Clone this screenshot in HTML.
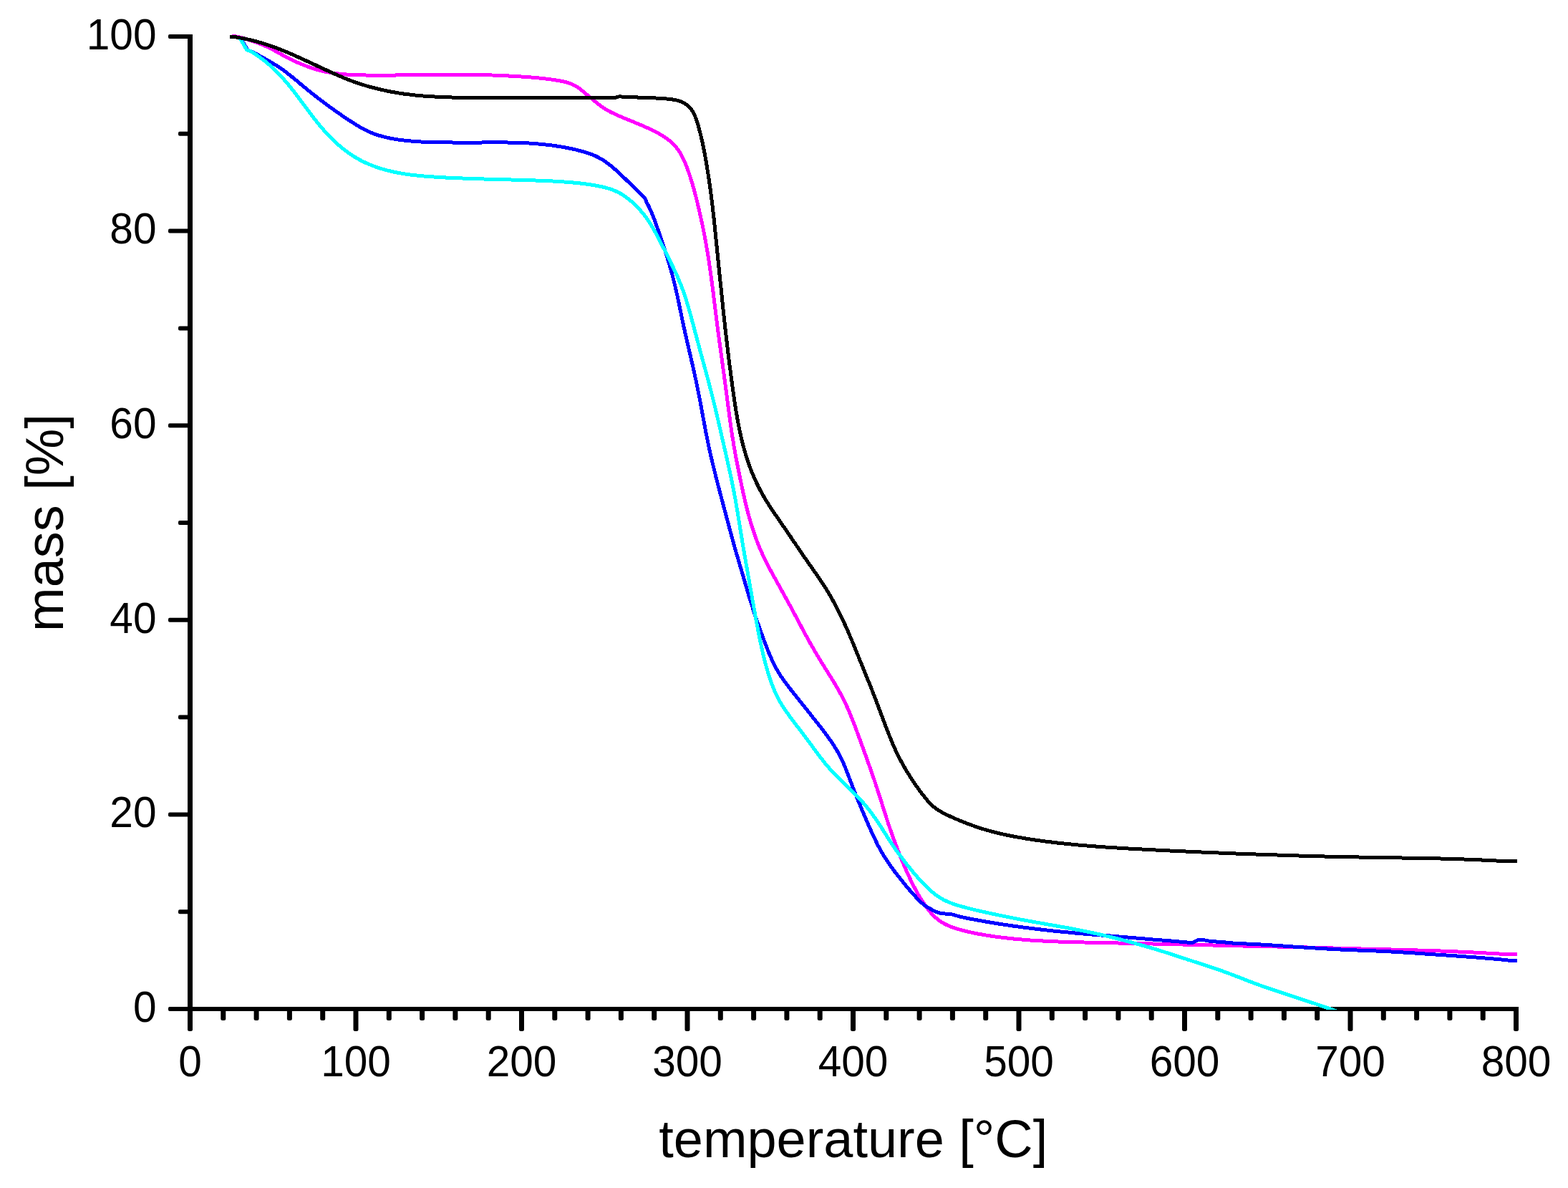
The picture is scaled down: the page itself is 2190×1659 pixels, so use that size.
<!DOCTYPE html>
<html lang="en"><head><meta charset="utf-8">
<title>mass [%] vs temperature [°C]</title>
<style>
html,body{margin:0;padding:0;background:#fff;}
body{width:2190px;height:1659px;overflow:hidden;}
svg{display:block;}
text{font-family:"Liberation Sans",Arial,Helvetica,sans-serif;fill:#000;}
.tick{font-size:58.6px;}
.title{font-size:73.9px;}
.curve{fill:none;stroke-width:5.0;stroke-linejoin:round;stroke-linecap:butt;}
</style></head><body>
<svg xmlns="http://www.w3.org/2000/svg" width="2190" height="1659" viewBox="0 0 2190 1659">
<rect x="0" y="0" width="2190" height="1659" fill="#fff"/>
<defs><clipPath id="plot"><rect x="262" y="0" width="1857.5" height="1410"/></clipPath></defs>
<g fill="#000" shape-rendering="crispEdges">
<rect x="262" y="48" width="7" height="1389"/>
<rect x="262" y="1406" width="1859" height="6"/>
</g>
<g fill="#000">
<rect x="235" y="1406" width="30" height="6" rx="2"/>
<rect x="249" y="1270.2" width="16" height="6" rx="2"/>
<rect x="235" y="1134.4" width="30" height="6" rx="2"/>
<rect x="249" y="998.6" width="16" height="6" rx="2"/>
<rect x="235" y="862.8" width="30" height="6" rx="2"/>
<rect x="249" y="727" width="16" height="6" rx="2"/>
<rect x="235" y="591.2" width="30" height="6" rx="2"/>
<rect x="249" y="455.4" width="16" height="6" rx="2"/>
<rect x="235" y="319.6" width="30" height="6" rx="2"/>
<rect x="249" y="183.8" width="16" height="6" rx="2"/>
<rect x="235" y="48" width="30" height="6" rx="2"/>
<rect x="262" y="1408" width="7" height="32" rx="2.5"/>
<rect x="308.3" y="1408" width="7" height="17" rx="2.5"/>
<rect x="354.6" y="1408" width="7" height="17" rx="2.5"/>
<rect x="400.9" y="1408" width="7" height="17" rx="2.5"/>
<rect x="447.2" y="1408" width="7" height="17" rx="2.5"/>
<rect x="493.5" y="1408" width="7" height="32" rx="2.5"/>
<rect x="539.8" y="1408" width="7" height="17" rx="2.5"/>
<rect x="586.1" y="1408" width="7" height="17" rx="2.5"/>
<rect x="632.4" y="1408" width="7" height="17" rx="2.5"/>
<rect x="678.7" y="1408" width="7" height="17" rx="2.5"/>
<rect x="725" y="1408" width="7" height="32" rx="2.5"/>
<rect x="771.3" y="1408" width="7" height="17" rx="2.5"/>
<rect x="817.6" y="1408" width="7" height="17" rx="2.5"/>
<rect x="863.9" y="1408" width="7" height="17" rx="2.5"/>
<rect x="910.2" y="1408" width="7" height="17" rx="2.5"/>
<rect x="956.5" y="1408" width="7" height="32" rx="2.5"/>
<rect x="1002.8" y="1408" width="7" height="17" rx="2.5"/>
<rect x="1049.1" y="1408" width="7" height="17" rx="2.5"/>
<rect x="1095.4" y="1408" width="7" height="17" rx="2.5"/>
<rect x="1141.7" y="1408" width="7" height="17" rx="2.5"/>
<rect x="1188" y="1408" width="7" height="32" rx="2.5"/>
<rect x="1234.3" y="1408" width="7" height="17" rx="2.5"/>
<rect x="1280.6" y="1408" width="7" height="17" rx="2.5"/>
<rect x="1326.9" y="1408" width="7" height="17" rx="2.5"/>
<rect x="1373.2" y="1408" width="7" height="17" rx="2.5"/>
<rect x="1419.5" y="1408" width="7" height="32" rx="2.5"/>
<rect x="1465.8" y="1408" width="7" height="17" rx="2.5"/>
<rect x="1512.1" y="1408" width="7" height="17" rx="2.5"/>
<rect x="1558.4" y="1408" width="7" height="17" rx="2.5"/>
<rect x="1604.7" y="1408" width="7" height="17" rx="2.5"/>
<rect x="1651" y="1408" width="7" height="32" rx="2.5"/>
<rect x="1697.3" y="1408" width="7" height="17" rx="2.5"/>
<rect x="1743.6" y="1408" width="7" height="17" rx="2.5"/>
<rect x="1789.9" y="1408" width="7" height="17" rx="2.5"/>
<rect x="1836.2" y="1408" width="7" height="17" rx="2.5"/>
<rect x="1882.5" y="1408" width="7" height="32" rx="2.5"/>
<rect x="1928.8" y="1408" width="7" height="17" rx="2.5"/>
<rect x="1975.1" y="1408" width="7" height="17" rx="2.5"/>
<rect x="2021.4" y="1408" width="7" height="17" rx="2.5"/>
<rect x="2067.7" y="1408" width="7" height="17" rx="2.5"/>
<rect x="2114" y="1408" width="7" height="32" rx="2.5"/>
</g>
<g class="curve" clip-path="url(#plot)" shape-rendering="crispEdges">
<path stroke="#ff00ff" d="M322.9 51.1C323.9 51 326.9 50.7 328.9 50.9C330.9 51 332.8 51.5 334.8 52C336.7 52.4 338.7 53 340.6 53.5C342.5 54.1 344.4 54.6 346.3 55.2C348.2 55.8 350.1 56.5 352 57.1C353.9 57.7 355.8 58.4 357.7 59.1C359.6 59.7 361.4 60.4 363.3 61.2C365.2 61.9 367 62.7 368.8 63.5C370.7 64.3 372.5 65.1 374.3 66C376.1 66.8 377.9 67.7 379.7 68.7C381.4 69.6 383.2 70.5 384.9 71.5C386.7 72.5 388.4 73.4 390.2 74.4C391.9 75.4 393.7 76.4 395.4 77.3C397.2 78.3 398.9 79.2 400.7 80.1C402.5 81 404.3 82 406.1 82.8C407.9 83.7 409.7 84.6 411.5 85.4C413.3 86.3 415.1 87.1 416.9 87.9C418.8 88.7 420.6 89.5 422.5 90.2C424.3 91 426.2 91.7 428 92.4C429.9 93.1 431.8 93.8 433.7 94.5C435.6 95.1 437.5 95.7 439.4 96.3C441.3 96.9 443.2 97.5 445.1 98C447.1 98.5 449 99 451 99.4C452.9 99.9 454.9 100.3 456.8 100.6C458.8 101 460.8 101.4 462.7 101.7C464.7 102 466.7 102.3 468.7 102.5C470.7 102.8 472.6 103 474.6 103.2C476.6 103.4 478.6 103.6 480.6 103.7C482.6 103.9 484.6 104 486.6 104.2C488.6 104.3 490.6 104.4 492.6 104.5C494.6 104.6 496.6 104.6 498.6 104.7C500.6 104.8 502.6 104.8 504.6 104.9C506.6 104.9 508.6 105 510.6 105C512.5 105 514.5 105 516.5 105.1C518.5 105.1 520.5 105.1 522.5 105.1C524.5 105.1 526.5 105.1 528.5 105.1C530.5 105.1 532.5 105.1 534.5 105.1C536.5 105.1 538.5 105.1 540.5 105.1C542.5 105 544.5 105 546.5 105C548.5 105 550.5 105 552.5 105C554.5 104.9 556.5 104.9 558.5 104.9C560.5 104.9 562.5 104.8 564.5 104.8C566.5 104.8 568.5 104.8 570.5 104.8C572.5 104.7 574.5 104.7 576.5 104.7C578.5 104.7 580.5 104.7 582.5 104.6C584.5 104.6 586.5 104.6 588.5 104.6C590.5 104.6 592.5 104.5 594.5 104.5C596.5 104.5 598.5 104.5 600.5 104.5C602.5 104.5 604.5 104.4 606.5 104.4C608.5 104.4 610.5 104.4 612.5 104.4C614.5 104.4 616.5 104.4 618.5 104.4C620.5 104.3 622.5 104.3 624.5 104.3C626.5 104.3 628.5 104.3 630.5 104.3C632.5 104.3 634.5 104.3 636.5 104.3C638.5 104.3 640.5 104.3 642.5 104.3C644.5 104.3 646.5 104.3 648.5 104.3C650.5 104.4 652.5 104.4 654.5 104.4C656.5 104.4 658.4 104.4 660.4 104.4C662.4 104.5 664.4 104.5 666.4 104.5C668.4 104.6 670.4 104.6 672.4 104.6C674.4 104.7 676.4 104.7 678.4 104.8C680.4 104.8 682.4 104.9 684.4 104.9C686.4 105 688.4 105 690.4 105.1C692.4 105.2 694.4 105.3 696.4 105.3C698.4 105.4 700.4 105.5 702.4 105.6C704.4 105.7 706.4 105.8 708.4 105.9C710.4 106 712.4 106.1 714.4 106.2C716.4 106.3 718.4 106.4 720.4 106.5C722.4 106.6 724.4 106.7 726.4 106.9C728.3 107 730.3 107.1 732.3 107.3C734.3 107.4 736.3 107.6 738.3 107.7C740.3 107.9 742.3 108 744.3 108.2C746.3 108.4 748.3 108.6 750.3 108.7C752.3 108.9 754.2 109.1 756.2 109.3C758.2 109.6 760.2 109.8 762.2 110C764.2 110.3 766.2 110.5 768.1 110.8C770.1 111 772.1 111.3 774.1 111.6C776 111.9 778 112.2 780 112.6C782 112.9 783.9 113.3 785.9 113.7C787.8 114.1 789.8 114.5 791.7 115.1C793.6 115.6 795.6 116.2 797.4 117C799.3 117.7 801.1 118.5 802.8 119.5C804.6 120.4 806.3 121.6 807.9 122.7C809.5 123.8 811.1 125.1 812.7 126.3C814.2 127.6 815.8 128.9 817.3 130.1C818.8 131.4 820.4 132.7 821.9 134C823.4 135.3 824.9 136.6 826.5 137.8C828 139.1 829.6 140.4 831.1 141.7C832.7 142.9 834.2 144.2 835.8 145.4C837.4 146.6 839 147.8 840.6 149C842.3 150.1 843.9 151.2 845.6 152.3C847.3 153.3 849 154.3 850.8 155.3C852.5 156.3 854.3 157.2 856.1 158C857.9 158.9 859.7 159.8 861.6 160.6C863.4 161.4 865.2 162.2 867 163C868.9 163.8 870.7 164.5 872.6 165.3C874.4 166.1 876.3 166.8 878.1 167.6C880 168.3 881.8 169.1 883.7 169.8C885.5 170.6 887.4 171.4 889.2 172.1C891.1 172.9 892.9 173.6 894.8 174.4C896.6 175.2 898.4 176 900.3 176.8C902.1 177.6 903.9 178.4 905.7 179.3C907.6 180.1 909.4 180.9 911.2 181.8C912.9 182.7 914.7 183.6 916.5 184.6C918.3 185.5 920 186.4 921.7 187.4C923.5 188.4 925.2 189.5 926.9 190.6C928.5 191.6 930.2 192.8 931.8 194C933.4 195.1 935 196.4 936.5 197.7C938 199 939.5 200.4 940.9 201.8C942.2 203.2 943.6 204.7 944.8 206.3C946.1 207.9 947.2 209.5 948.3 211.1C949.5 212.8 950.5 214.5 951.5 216.3C952.4 218 953.3 219.8 954.2 221.6C955.1 223.4 955.9 225.2 956.7 227.1C957.5 228.9 958.2 230.8 958.9 232.6C959.6 234.5 960.3 236.4 961 238.2C961.7 240.1 962.3 242 963 243.9C963.6 245.8 964.2 247.7 964.8 249.6C965.4 251.5 966 253.4 966.6 255.3C967.2 257.3 967.7 259.2 968.3 261.1C968.8 263 969.3 264.9 969.9 266.9C970.4 268.8 970.9 270.7 971.4 272.7C971.9 274.6 972.4 276.5 972.9 278.5C973.4 280.4 973.9 282.4 974.3 284.3C974.8 286.2 975.2 288.2 975.7 290.1C976.2 292.1 976.6 294 977 296C977.5 297.9 977.9 299.9 978.4 301.8C978.8 303.8 979.2 305.7 979.6 307.7C980.1 309.6 980.5 311.6 980.9 313.6C981.3 315.5 981.7 317.5 982.1 319.4C982.5 321.4 982.9 323.3 983.3 325.3C983.7 327.3 984 329.2 984.4 331.2C984.8 333.2 985.2 335.1 985.5 337.1C985.9 339.1 986.2 341 986.6 343C986.9 345 987.2 346.9 987.6 348.9C987.9 350.9 988.2 352.8 988.5 354.8C988.9 356.8 989.2 358.8 989.5 360.7C989.8 362.7 990.1 364.7 990.4 366.7C990.7 368.6 991 370.6 991.2 372.6C991.5 374.6 991.8 376.6 992.1 378.5C992.4 380.5 992.7 382.5 992.9 384.5C993.2 386.5 993.5 388.4 993.7 390.4C994 392.4 994.3 394.4 994.5 396.4C994.8 398.3 995 400.3 995.3 402.3C995.6 404.3 995.8 406.3 996.1 408.3C996.3 410.2 996.6 412.2 996.8 414.2C997.1 416.2 997.3 418.2 997.6 420.2C997.8 422.1 998 424.1 998.3 426.1C998.5 428.1 998.8 430.1 999 432.1C999.3 434 999.5 436 999.8 438C1000 440 1000.2 442 1000.5 444C1000.7 445.9 1001 447.9 1001.2 449.9C1001.5 451.9 1001.8 453.9 1002 455.9C1002.3 457.8 1002.5 459.8 1002.8 461.8C1003 463.8 1003.3 465.8 1003.6 467.7C1003.8 469.7 1004.1 471.7 1004.4 473.7C1004.6 475.7 1004.9 477.6 1005.2 479.6C1005.4 481.6 1005.7 483.6 1006 485.6C1006.2 487.5 1006.5 489.5 1006.8 491.5C1007.1 493.5 1007.3 495.5 1007.6 497.4C1007.9 499.4 1008.2 501.4 1008.4 503.4C1008.7 505.4 1009 507.3 1009.3 509.3C1009.5 511.3 1009.8 513.3 1010.1 515.3C1010.3 517.2 1010.6 519.2 1010.9 521.2C1011.2 523.2 1011.4 525.2 1011.7 527.1C1012 529.1 1012.2 531.1 1012.5 533.1C1012.8 535.1 1013 537.1 1013.3 539C1013.6 541 1013.8 543 1014.1 545C1014.4 547 1014.6 548.9 1014.9 550.9C1015.1 552.9 1015.4 554.9 1015.6 556.9C1015.9 558.9 1016.2 560.8 1016.4 562.8C1016.7 564.8 1016.9 566.8 1017.2 568.8C1017.5 570.7 1017.7 572.7 1018 574.7C1018.2 576.7 1018.5 578.7 1018.8 580.7C1019 582.6 1019.3 584.6 1019.6 586.6C1019.8 588.6 1020.1 590.6 1020.4 592.5C1020.7 594.5 1020.9 596.5 1021.2 598.5C1021.5 600.4 1021.8 602.4 1022.1 604.4C1022.4 606.4 1022.7 608.4 1023 610.3C1023.3 612.3 1023.6 614.3 1024 616.2C1024.3 618.2 1024.6 620.2 1024.9 622.2C1025.3 624.1 1025.6 626.1 1026 628.1C1026.3 630 1026.7 632 1027 634C1027.4 635.9 1027.8 637.9 1028.1 639.9C1028.5 641.8 1028.9 643.8 1029.3 645.8C1029.6 647.7 1030 649.7 1030.4 651.6C1030.8 653.6 1031.2 655.6 1031.6 657.5C1032 659.5 1032.4 661.4 1032.8 663.4C1033.2 665.4 1033.6 667.3 1034 669.3C1034.4 671.2 1034.8 673.2 1035.2 675.1C1035.6 677.1 1036 679 1036.5 681C1036.9 683 1037.3 684.9 1037.7 686.9C1038.1 688.8 1038.6 690.8 1039 692.7C1039.5 694.7 1039.9 696.6 1040.4 698.6C1040.8 700.5 1041.3 702.5 1041.7 704.4C1042.2 706.3 1042.7 708.3 1043.2 710.2C1043.7 712.2 1044.2 714.1 1044.7 716C1045.2 718 1045.7 719.9 1046.2 721.8C1046.8 723.7 1047.3 725.7 1047.9 727.6C1048.4 729.5 1049 731.4 1049.6 733.3C1050.2 735.2 1050.8 737.1 1051.4 739C1052 740.9 1052.7 742.8 1053.3 744.7C1054 746.6 1054.6 748.5 1055.3 750.4C1056 752.3 1056.7 754.1 1057.4 756C1058.1 757.9 1058.8 759.7 1059.6 761.6C1060.3 763.4 1061.1 765.3 1061.9 767.1C1062.7 769 1063.5 770.8 1064.3 772.6C1065.1 774.4 1066 776.2 1066.8 778.1C1067.7 779.9 1068.5 781.7 1069.4 783.5C1070.3 785.2 1071.2 787 1072.1 788.8C1073 790.6 1074 792.3 1074.9 794.1C1075.9 795.9 1076.8 797.6 1077.8 799.4C1078.7 801.1 1079.7 802.9 1080.6 804.6C1081.6 806.4 1082.6 808.1 1083.6 809.9C1084.5 811.6 1085.5 813.4 1086.5 815.1C1087.5 816.9 1088.4 818.6 1089.4 820.4C1090.4 822.1 1091.3 823.9 1092.3 825.6C1093.3 827.3 1094.2 829.1 1095.2 830.8C1096.2 832.6 1097.1 834.3 1098.1 836.1C1099.1 837.9 1100 839.6 1101 841.4C1101.9 843.1 1102.9 844.9 1103.9 846.6C1104.8 848.4 1105.8 850.1 1106.7 851.9C1107.7 853.7 1108.6 855.4 1109.5 857.2C1110.5 858.9 1111.4 860.7 1112.4 862.5C1113.3 864.2 1114.2 866 1115.2 867.8C1116.1 869.5 1117.1 871.3 1118 873.1C1118.9 874.8 1119.9 876.6 1120.8 878.4C1121.7 880.1 1122.7 881.9 1123.6 883.6C1124.6 885.4 1125.5 887.2 1126.5 888.9C1127.5 890.7 1128.4 892.4 1129.4 894.2C1130.4 895.9 1131.3 897.7 1132.3 899.4C1133.3 901.1 1134.3 902.9 1135.3 904.6C1136.3 906.3 1137.3 908.1 1138.3 909.8C1139.3 911.5 1140.4 913.2 1141.4 914.9C1142.4 916.6 1143.5 918.4 1144.5 920.1C1145.5 921.8 1146.6 923.5 1147.6 925.2C1148.7 926.9 1149.7 928.6 1150.8 930.3C1151.8 932 1152.9 933.7 1154 935.4C1155 937 1156.1 938.7 1157.1 940.4C1158.2 942.1 1159.3 943.8 1160.3 945.5C1161.4 947.2 1162.4 948.9 1163.5 950.6C1164.5 952.3 1165.5 954 1166.6 955.8C1167.6 957.5 1168.6 959.2 1169.6 960.9C1170.6 962.7 1171.6 964.4 1172.5 966.2C1173.5 967.9 1174.4 969.7 1175.4 971.4C1176.3 973.2 1177.2 975 1178.1 976.8C1179 978.6 1179.9 980.4 1180.7 982.2C1181.6 984 1182.4 985.8 1183.3 987.6C1184.1 989.4 1184.9 991.3 1185.7 993.1C1186.5 994.9 1187.2 996.8 1188 998.6C1188.8 1000.5 1189.5 1002.3 1190.2 1004.2C1191 1006 1191.7 1007.9 1192.4 1009.8C1193.1 1011.6 1193.9 1013.5 1194.6 1015.4C1195.3 1017.2 1196 1019.1 1196.7 1021C1197.3 1022.9 1198 1024.7 1198.7 1026.6C1199.4 1028.5 1200.1 1030.4 1200.8 1032.2C1201.5 1034.1 1202.1 1036 1202.8 1037.9C1203.5 1039.8 1204.2 1041.6 1204.9 1043.5C1205.6 1045.4 1206.2 1047.3 1206.9 1049.2C1207.6 1051 1208.3 1052.9 1209 1054.8C1209.6 1056.7 1210.3 1058.6 1211 1060.4C1211.7 1062.3 1212.3 1064.2 1213 1066.1C1213.7 1068 1214.3 1069.9 1215 1071.7C1215.7 1073.6 1216.3 1075.5 1217 1077.4C1217.6 1079.3 1218.3 1081.2 1218.9 1083.1C1219.6 1085 1220.2 1086.8 1220.9 1088.7C1221.5 1090.6 1222.2 1092.5 1222.8 1094.4C1223.4 1096.3 1224 1098.2 1224.7 1100.1C1225.3 1102 1225.9 1103.9 1226.5 1105.8C1227.1 1107.7 1227.7 1109.6 1228.3 1111.5C1229 1113.4 1229.6 1115.3 1230.2 1117.2C1230.8 1119.2 1231.4 1121.1 1232 1123C1232.6 1124.9 1233.2 1126.8 1233.8 1128.7C1234.4 1130.6 1235 1132.5 1235.6 1134.4C1236.2 1136.3 1236.8 1138.2 1237.4 1140.1C1238 1142 1238.6 1143.9 1239.3 1145.8C1239.9 1147.7 1240.5 1149.6 1241.1 1151.5C1241.8 1153.4 1242.4 1155.3 1243.1 1157.2C1243.7 1159.1 1244.4 1161 1245 1162.8C1245.7 1164.7 1246.4 1166.6 1247 1168.5C1247.7 1170.4 1248.4 1172.3 1249.1 1174.1C1249.8 1176 1250.5 1177.9 1251.2 1179.8C1251.9 1181.6 1252.6 1183.5 1253.3 1185.4C1254 1187.2 1254.8 1189.1 1255.5 1190.9C1256.2 1192.8 1257 1194.7 1257.7 1196.5C1258.5 1198.4 1259.2 1200.2 1260 1202.1C1260.8 1203.9 1261.6 1205.7 1262.3 1207.6C1263.1 1209.4 1263.9 1211.3 1264.7 1213.1C1265.5 1214.9 1266.3 1216.8 1267.1 1218.6C1267.9 1220.4 1268.8 1222.2 1269.6 1224C1270.4 1225.8 1271.3 1227.7 1272.2 1229.5C1273 1231.3 1273.9 1233 1274.8 1234.8C1275.7 1236.6 1276.6 1238.4 1277.6 1240.2C1278.5 1241.9 1279.5 1243.7 1280.4 1245.4C1281.4 1247.2 1282.4 1248.9 1283.4 1250.6C1284.4 1252.4 1285.5 1254.1 1286.5 1255.8C1287.6 1257.4 1288.7 1259.1 1289.8 1260.8C1290.9 1262.4 1292 1264.1 1293.2 1265.7C1294.4 1267.3 1295.6 1268.9 1296.8 1270.5C1298.1 1272.1 1299.3 1273.6 1300.6 1275.1C1302 1276.6 1303.3 1278.1 1304.7 1279.5C1306.2 1280.9 1307.6 1282.2 1309.2 1283.5C1310.7 1284.8 1312.3 1286 1314 1287.1C1315.7 1288.2 1317.4 1289.2 1319.2 1290.1C1320.9 1291.1 1322.8 1291.9 1324.6 1292.7C1326.4 1293.5 1328.3 1294.2 1330.2 1294.9C1332 1295.6 1333.9 1296.2 1335.9 1296.8C1337.8 1297.4 1339.7 1297.9 1341.6 1298.5C1343.5 1299 1345.5 1299.5 1347.4 1300C1349.3 1300.5 1351.3 1300.9 1353.2 1301.4C1355.2 1301.8 1357.1 1302.3 1359.1 1302.7C1361 1303.1 1363 1303.5 1365 1303.9C1366.9 1304.2 1368.9 1304.6 1370.9 1304.9C1372.8 1305.3 1374.8 1305.6 1376.8 1306C1378.8 1306.3 1380.7 1306.6 1382.7 1306.9C1384.7 1307.2 1386.7 1307.5 1388.6 1307.8C1390.6 1308 1392.6 1308.3 1394.6 1308.6C1396.6 1308.8 1398.5 1309.1 1400.5 1309.3C1402.5 1309.6 1404.5 1309.8 1406.5 1310C1408.5 1310.2 1410.5 1310.5 1412.4 1310.7C1414.4 1310.9 1416.4 1311.1 1418.4 1311.3C1420.4 1311.5 1422.4 1311.6 1424.4 1311.8C1426.4 1312 1428.4 1312.2 1430.4 1312.3C1432.3 1312.5 1434.3 1312.6 1436.3 1312.8C1438.3 1312.9 1440.3 1313.1 1442.3 1313.2C1444.3 1313.3 1446.3 1313.5 1448.3 1313.6C1450.3 1313.7 1452.3 1313.8 1454.3 1313.9C1456.3 1314 1458.3 1314.1 1460.3 1314.2C1462.3 1314.3 1464.3 1314.4 1466.3 1314.5C1468.3 1314.6 1470.3 1314.7 1472.2 1314.8C1474.2 1314.8 1476.2 1314.9 1478.2 1315C1480.2 1315.1 1482.2 1315.1 1484.2 1315.2C1486.2 1315.3 1488.2 1315.3 1490.2 1315.4C1492.2 1315.5 1494.2 1315.5 1496.2 1315.6C1498.2 1315.6 1500.2 1315.7 1502.2 1315.7C1504.2 1315.8 1506.2 1315.8 1508.2 1315.9C1510.2 1315.9 1512.2 1316 1514.2 1316C1516.2 1316.1 1518.2 1316.1 1520.2 1316.1C1522.2 1316.2 1524.2 1316.2 1526.2 1316.3C1528.2 1316.3 1530.2 1316.3 1532.2 1316.4C1534.2 1316.4 1536.2 1316.5 1538.2 1316.5C1540.2 1316.5 1542.2 1316.6 1544.2 1316.6C1546.2 1316.6 1548.2 1316.7 1550.2 1316.7C1552.2 1316.8 1554.2 1316.8 1556.2 1316.8C1558.2 1316.9 1560.2 1316.9 1562.2 1317C1564.2 1317 1566.2 1317 1568.2 1317.1C1570.2 1317.1 1572.2 1317.2 1574.2 1317.2C1576.1 1317.3 1578.1 1317.3 1580.1 1317.3C1582.1 1317.4 1584.1 1317.4 1586.1 1317.5C1588.1 1317.5 1590.1 1317.6 1592.1 1317.6C1594.1 1317.7 1596.1 1317.7 1598.1 1317.8C1600.1 1317.8 1602.1 1317.9 1604.1 1317.9C1606.1 1317.9 1608.1 1318 1610.1 1318C1612.1 1318.1 1614.1 1318.1 1616.1 1318.2C1618.1 1318.2 1620.1 1318.3 1622.1 1318.3C1624.1 1318.4 1626.1 1318.4 1628.1 1318.4C1630.1 1318.5 1632.1 1318.5 1634.1 1318.6C1636.1 1318.6 1638.1 1318.7 1640.1 1318.7C1642.1 1318.7 1644.1 1318.8 1646.1 1318.8C1648.1 1318.9 1650.1 1318.9 1652.1 1319C1654.1 1319 1656.1 1319.1 1658.1 1319.1C1660.1 1319.1 1662.1 1319.2 1664.1 1319.2C1666.1 1319.3 1668.1 1319.3 1670.1 1319.4C1672.1 1319.4 1674.1 1319.5 1676.1 1319.5C1678.1 1319.6 1680.1 1319.6 1682.1 1319.7C1684 1319.8 1686 1319.8 1688 1319.9C1690 1319.9 1692 1320 1694 1320C1696 1320.1 1698 1320.1 1700 1320.2C1702 1320.3 1704 1320.3 1706 1320.4C1708 1320.4 1710 1320.5 1712 1320.5C1714 1320.6 1716 1320.6 1718 1320.7C1720 1320.7 1722 1320.7 1724 1320.8C1726 1320.8 1728 1320.9 1730 1320.9C1732 1321 1734 1321 1736 1321C1738 1321.1 1740 1321.1 1742 1321.1C1744 1321.2 1746 1321.2 1748 1321.3C1750 1321.3 1752 1321.3 1754 1321.4C1756 1321.4 1758 1321.5 1760 1321.5C1762 1321.5 1764 1321.6 1766 1321.6C1768 1321.6 1770 1321.7 1772 1321.7C1774 1321.8 1776 1321.8 1778 1321.9C1780 1321.9 1782 1321.9 1784 1322C1786 1322 1788 1322.1 1790 1322.1C1792 1322.2 1793.9 1322.2 1795.9 1322.3C1797.9 1322.3 1799.9 1322.4 1801.9 1322.4C1803.9 1322.5 1805.9 1322.5 1807.9 1322.6C1809.9 1322.6 1811.9 1322.7 1813.9 1322.7C1815.9 1322.8 1817.9 1322.8 1819.9 1322.9C1821.9 1322.9 1823.9 1323 1825.9 1323C1827.9 1323.1 1829.9 1323.2 1831.9 1323.2C1833.9 1323.3 1835.9 1323.3 1837.9 1323.4C1839.9 1323.4 1841.9 1323.5 1843.9 1323.5C1845.9 1323.6 1847.9 1323.7 1849.9 1323.7C1851.9 1323.8 1853.9 1323.8 1855.9 1323.9C1857.9 1323.9 1859.9 1324 1861.9 1324C1863.9 1324.1 1865.9 1324.1 1867.9 1324.2C1869.9 1324.2 1871.9 1324.3 1873.9 1324.3C1875.9 1324.4 1877.9 1324.4 1879.9 1324.5C1881.9 1324.5 1883.9 1324.6 1885.9 1324.6C1887.9 1324.7 1889.9 1324.7 1891.9 1324.8C1893.8 1324.8 1895.8 1324.9 1897.8 1324.9C1899.8 1325 1901.8 1325 1903.8 1325.1C1905.8 1325.1 1907.8 1325.2 1909.8 1325.2C1911.8 1325.2 1913.8 1325.3 1915.8 1325.3C1917.8 1325.4 1919.8 1325.4 1921.8 1325.5C1923.8 1325.5 1925.8 1325.6 1927.8 1325.6C1929.8 1325.7 1931.8 1325.7 1933.8 1325.8C1935.8 1325.8 1937.8 1325.9 1939.8 1325.9C1941.8 1326 1943.8 1326 1945.8 1326.1C1947.8 1326.1 1949.8 1326.2 1951.8 1326.2C1953.8 1326.3 1955.8 1326.3 1957.8 1326.4C1959.8 1326.4 1961.8 1326.5 1963.8 1326.5C1965.8 1326.6 1967.8 1326.7 1969.8 1326.7C1971.8 1326.8 1973.8 1326.8 1975.8 1326.9C1977.8 1326.9 1979.8 1327 1981.8 1327.1C1983.8 1327.1 1985.8 1327.2 1987.8 1327.3C1989.8 1327.3 1991.8 1327.4 1993.7 1327.4C1995.7 1327.5 1997.7 1327.6 1999.7 1327.6C2001.7 1327.7 2003.7 1327.8 2005.7 1327.8C2007.7 1327.9 2009.7 1328 2011.7 1328C2013.7 1328.1 2015.7 1328.2 2017.7 1328.3C2019.7 1328.3 2021.7 1328.4 2023.7 1328.5C2025.7 1328.6 2027.7 1328.6 2029.7 1328.7C2031.7 1328.8 2033.7 1328.9 2035.7 1329C2037.7 1329.1 2039.7 1329.1 2041.7 1329.2C2043.7 1329.3 2045.7 1329.4 2047.7 1329.5C2049.7 1329.6 2051.7 1329.7 2053.7 1329.8C2055.7 1329.9 2057.7 1330 2059.7 1330.1C2061.6 1330.2 2063.6 1330.3 2065.6 1330.4C2067.6 1330.5 2069.6 1330.6 2071.6 1330.7C2073.6 1330.8 2075.6 1331 2077.6 1331.1C2079.6 1331.2 2081.6 1331.3 2083.6 1331.4C2085.6 1331.5 2087.6 1331.6 2089.6 1331.8C2091.6 1331.9 2093.6 1332 2095.6 1332.1C2097.6 1332.2 2099.6 1332.4 2101.6 1332.5C2103.5 1332.6 2105.6 1332.8 2107.5 1332.8C2109.5 1332.8 2111.6 1332.4 2113.5 1332.3C2115.4 1332.2 2118.1 1332.3 2119 1332.3"/>
<path stroke="#0000ff" d="M336.1 53.9C336.4 54.4 337 55.1 337.8 56.5C338.6 57.8 340 60.1 341.1 62C342.2 63.8 343.8 66.1 344.6 67.4C345.3 68.7 344.5 69.1 345.6 69.8C346.7 70.5 349.4 70.9 351.2 71.7C353.1 72.5 354.8 73.6 356.5 74.5C358.3 75.5 360 76.5 361.7 77.4C363.5 78.4 365.2 79.4 367 80.4C368.7 81.3 370.5 82.3 372.2 83.3C373.9 84.3 375.7 85.3 377.4 86.3C379.1 87.3 380.8 88.3 382.5 89.3C384.2 90.4 385.9 91.4 387.6 92.5C389.3 93.6 390.9 94.7 392.6 95.8C394.2 96.9 395.9 98.1 397.5 99.3C399.1 100.5 400.7 101.7 402.2 102.9C403.8 104.1 405.4 105.4 406.9 106.6C408.5 107.9 410 109.1 411.5 110.4C413.1 111.7 414.6 113 416.1 114.2C417.7 115.5 419.2 116.8 420.7 118.1C422.3 119.3 423.8 120.6 425.3 121.9C426.9 123.2 428.4 124.4 430 125.7C431.5 127 433.1 128.2 434.6 129.5C436.2 130.7 437.7 132 439.3 133.2C440.9 134.4 442.4 135.6 444 136.9C445.6 138.1 447.2 139.3 448.8 140.5C450.4 141.7 452 142.9 453.6 144.1C455.2 145.3 456.8 146.5 458.4 147.6C460 148.8 461.6 150 463.2 151.2C464.9 152.3 466.5 153.5 468.1 154.6C469.7 155.8 471.4 156.9 473 158.1C474.6 159.2 476.3 160.3 477.9 161.5C479.6 162.6 481.2 163.7 482.9 164.8C484.5 165.9 486.2 167 487.9 168.1C489.5 169.2 491.2 170.3 492.9 171.4C494.6 172.5 496.3 173.5 498 174.6C499.7 175.6 501.4 176.7 503.1 177.7C504.8 178.7 506.6 179.6 508.3 180.6C510.1 181.5 511.9 182.4 513.7 183.2C515.5 184.1 517.3 184.9 519.2 185.6C521 186.4 522.9 187.1 524.8 187.7C526.7 188.4 528.6 189 530.5 189.5C532.4 190.1 534.3 190.6 536.2 191.1C538.2 191.6 540.1 192.1 542.1 192.5C544 192.9 546 193.3 547.9 193.7C549.9 194 551.9 194.4 553.8 194.7C555.8 195 557.8 195.3 559.8 195.5C561.7 195.8 563.7 196 565.7 196.2C567.7 196.5 569.7 196.7 571.7 196.8C573.6 197 575.6 197.2 577.6 197.3C579.6 197.5 581.6 197.6 583.6 197.8C585.6 197.9 587.6 198 589.6 198.1C591.6 198.2 593.6 198.3 595.6 198.3C597.5 198.4 599.5 198.5 601.5 198.5C603.5 198.6 605.5 198.6 607.5 198.7C609.5 198.7 611.5 198.7 613.5 198.8C615.5 198.8 617.5 198.8 619.5 198.9C621.5 198.9 623.5 198.9 625.5 198.9C627.5 198.9 629.5 198.9 631.5 199C633.5 199 635.4 199 637.4 199C639.4 199 641.4 199 643.4 199C645.4 199 647.4 199 649.4 199C651.4 199 653.4 199 655.4 199C657.4 199 659.4 199 661.4 199C663.4 199 665.4 199 667.4 199C669.4 199 671.4 199 673.4 199C675.4 199 677.3 198.9 679.3 198.9C681.3 198.9 683.3 198.9 685.3 198.9C687.3 198.9 689.3 198.9 691.3 198.9C693.3 198.9 695.3 198.9 697.3 198.9C699.3 198.9 701.3 198.9 703.3 198.9C705.3 199 707.3 199 709.3 199C711.3 199 713.3 199.1 715.3 199.1C717.2 199.2 719.2 199.2 721.2 199.3C723.2 199.3 725.2 199.4 727.2 199.5C729.2 199.5 731.2 199.6 733.2 199.7C735.2 199.8 737.2 199.9 739.2 200C741.2 200.2 743.2 200.3 745.1 200.4C747.1 200.6 749.1 200.7 751.1 200.9C753.1 201.1 755.1 201.3 757.1 201.4C759.1 201.6 761 201.9 763 202.1C765 202.3 767 202.5 769 202.8C770.9 203 772.9 203.3 774.9 203.6C776.9 203.9 778.8 204.2 780.8 204.5C782.8 204.8 784.8 205.1 786.7 205.5C788.7 205.8 790.6 206.2 792.6 206.6C794.6 207 796.5 207.4 798.5 207.8C800.4 208.2 802.4 208.7 804.3 209.1C806.2 209.6 808.2 210.1 810.1 210.6C812 211.1 814 211.6 815.9 212.2C817.8 212.8 819.7 213.3 821.6 214C823.5 214.6 825.4 215.3 827.2 216C829.1 216.7 830.9 217.5 832.7 218.3C834.5 219.2 836.3 220.1 838 221.1C839.8 222 841.5 223.1 843.2 224.2C844.8 225.3 846.5 226.4 848.1 227.6C849.7 228.8 851.3 230 852.8 231.2C854.4 232.5 855.9 233.8 857.4 235.1C858.9 236.4 860.4 237.7 861.9 239.1C863.4 240.4 864.8 241.7 866.3 243.1C867.7 244.5 869.2 245.9 870.6 247.2C872.1 248.6 873.5 250 874.9 251.4C876.3 252.8 877.8 254.2 879.2 255.6C880.6 257 882 258.4 883.4 259.8C884.8 261.2 886.3 262.6 887.7 264C889.1 265.4 890.5 266.8 891.9 268.2C893.4 269.6 894.8 271 896.2 272.4C897.6 273.8 899.4 275 900.5 276.6C901.6 278.2 902 280.3 902.9 282.1C903.7 283.9 904.8 285.6 905.7 287.4C906.6 289.2 907.4 291 908.3 292.8C909.1 294.6 909.9 296.4 910.6 298.3C911.4 300.1 912.1 302 912.9 303.8C913.6 305.7 914.3 307.6 915 309.5C915.7 311.3 916.3 313.2 917 315.1C917.7 317 918.3 318.9 919 320.7C919.6 322.6 920.3 324.5 920.9 326.4C921.6 328.3 922.2 330.2 922.8 332.1C923.5 334 924.1 335.9 924.7 337.8C925.4 339.7 926 341.6 926.6 343.5C927.3 345.4 927.9 347.3 928.5 349.2C929.1 351.1 929.7 353 930.3 354.9C931 356.8 931.6 358.7 932.2 360.6C932.8 362.5 933.3 364.4 933.9 366.3C934.5 368.2 935.1 370.1 935.6 372C936.2 374 936.7 375.9 937.3 377.8C937.8 379.7 938.4 381.6 938.9 383.6C939.4 385.5 939.9 387.4 940.4 389.4C940.9 391.3 941.4 393.2 941.8 395.2C942.3 397.1 942.8 399.1 943.2 401C943.7 403 944.1 404.9 944.6 406.9C945 408.8 945.4 410.8 945.9 412.7C946.3 414.7 946.7 416.6 947.1 418.6C947.5 420.5 947.9 422.5 948.4 424.4C948.8 426.4 949.2 428.3 949.6 430.3C950 432.3 950.4 434.2 950.8 436.2C951.2 438.1 951.6 440.1 952 442C952.4 444 952.8 445.9 953.2 447.9C953.6 449.9 954.1 451.8 954.5 453.8C954.9 455.7 955.3 457.7 955.8 459.6C956.2 461.6 956.6 463.5 957 465.5C957.5 467.4 957.9 469.4 958.4 471.3C958.8 473.3 959.3 475.2 959.7 477.2C960.1 479.1 960.6 481 961.1 483C961.5 484.9 962 486.9 962.4 488.8C962.9 490.8 963.3 492.7 963.8 494.7C964.2 496.6 964.7 498.6 965.1 500.5C965.6 502.5 966 504.4 966.5 506.3C966.9 508.3 967.3 510.2 967.8 512.2C968.2 514.1 968.7 516.1 969.1 518C969.5 520 970 521.9 970.4 523.9C970.8 525.8 971.2 527.8 971.7 529.7C972.1 531.7 972.5 533.6 972.9 535.6C973.3 537.6 973.7 539.5 974.1 541.5C974.5 543.4 974.9 545.4 975.3 547.3C975.7 549.3 976.1 551.3 976.5 553.2C976.9 555.2 977.2 557.1 977.6 559.1C978 561.1 978.4 563 978.7 565C979.1 567 979.5 568.9 979.8 570.9C980.2 572.8 980.6 574.8 980.9 576.8C981.3 578.7 981.6 580.7 982 582.7C982.4 584.6 982.7 586.6 983.1 588.6C983.4 590.5 983.8 592.5 984.2 594.5C984.5 596.4 984.9 598.4 985.3 600.3C985.6 602.3 986 604.3 986.4 606.2C986.8 608.2 987.2 610.2 987.6 612.1C988 614.1 988.4 616 988.8 618C989.2 619.9 989.6 621.9 990 623.8C990.4 625.8 990.9 627.7 991.3 629.7C991.7 631.6 992.2 633.6 992.6 635.5C993.1 637.5 993.5 639.4 994 641.4C994.4 643.3 994.9 645.3 995.3 647.2C995.8 649.2 996.3 651.1 996.8 653C997.2 655 997.7 656.9 998.2 658.9C998.7 660.8 999.2 662.7 999.6 664.7C1000.1 666.6 1000.6 668.5 1001.1 670.5C1001.6 672.4 1002.1 674.3 1002.6 676.3C1003.1 678.2 1003.6 680.1 1004.1 682.1C1004.6 684 1005.1 685.9 1005.6 687.9C1006.1 689.8 1006.7 691.7 1007.2 693.7C1007.7 695.6 1008.2 697.5 1008.7 699.5C1009.2 701.4 1009.7 703.3 1010.2 705.3C1010.7 707.2 1011.3 709.1 1011.8 711C1012.3 713 1012.8 714.9 1013.3 716.8C1013.8 718.8 1014.3 720.7 1014.8 722.6C1015.3 724.6 1015.9 726.5 1016.4 728.4C1016.9 730.4 1017.4 732.3 1017.9 734.2C1018.4 736.1 1018.9 738.1 1019.4 740C1020 741.9 1020.5 743.9 1021 745.8C1021.5 747.7 1022.1 749.6 1022.6 751.6C1023.1 753.5 1023.6 755.4 1024.2 757.3C1024.7 759.3 1025.2 761.2 1025.8 763.1C1026.3 765 1026.9 767 1027.4 768.9C1028 770.8 1028.5 772.7 1029.1 774.6C1029.7 776.6 1030.2 778.5 1030.8 780.4C1031.3 782.3 1031.9 784.2 1032.5 786.1C1033 788.1 1033.6 790 1034.2 791.9C1034.7 793.8 1035.3 795.7 1035.9 797.6C1036.4 799.5 1037 801.5 1037.6 803.4C1038.1 805.3 1038.7 807.2 1039.3 809.1C1039.8 811 1040.4 813 1040.9 814.9C1041.5 816.8 1042.1 818.7 1042.6 820.6C1043.2 822.5 1043.8 824.5 1044.3 826.4C1044.9 828.3 1045.5 830.2 1046 832.1C1046.6 834 1047.2 835.9 1047.8 837.8C1048.4 839.8 1049 841.7 1049.6 843.6C1050.2 845.5 1050.8 847.4 1051.4 849.3C1052 851.2 1052.6 853.1 1053.2 855C1053.9 856.9 1054.5 858.8 1055.2 860.7C1055.8 862.5 1056.4 864.4 1057.1 866.3C1057.7 868.2 1058.4 870.1 1059.1 872C1059.7 873.9 1060.4 875.8 1061.1 877.6C1061.7 879.5 1062.4 881.4 1063.1 883.3C1063.8 885.2 1064.4 887 1065.1 888.9C1065.8 890.8 1066.5 892.7 1067.2 894.5C1067.9 896.4 1068.6 898.3 1069.3 900.1C1070 902 1070.8 903.9 1071.5 905.7C1072.2 907.6 1073 909.4 1073.7 911.3C1074.5 913.1 1075.3 915 1076.1 916.8C1076.9 918.6 1077.7 920.5 1078.5 922.3C1079.3 924.1 1080.2 925.9 1081.1 927.7C1082 929.5 1082.9 931.2 1083.8 933C1084.8 934.7 1085.8 936.5 1086.8 938.2C1087.9 939.9 1088.9 941.6 1090 943.3C1091.1 944.9 1092.3 946.6 1093.4 948.2C1094.6 949.8 1095.7 951.4 1096.9 953.1C1098.1 954.7 1099.3 956.3 1100.5 957.8C1101.7 959.4 1103 961 1104.2 962.6C1105.4 964.2 1106.7 965.7 1107.9 967.3C1109.1 968.9 1110.4 970.4 1111.6 972C1112.8 973.6 1114.1 975.1 1115.3 976.7C1116.6 978.3 1117.8 979.8 1119.1 981.4C1120.3 982.9 1121.6 984.5 1122.8 986.1C1124 987.6 1125.3 989.2 1126.5 990.8C1127.8 992.3 1129 993.9 1130.3 995.4C1131.5 997 1132.8 998.6 1134 1000.1C1135.2 1001.7 1136.5 1003.3 1137.7 1004.8C1139 1006.4 1140.2 1008 1141.4 1009.5C1142.7 1011.1 1143.9 1012.7 1145.1 1014.2C1146.4 1015.8 1147.6 1017.4 1148.8 1019C1150 1020.6 1151.2 1022.2 1152.4 1023.8C1153.6 1025.4 1154.8 1027 1156 1028.6C1157.2 1030.2 1158.3 1031.8 1159.5 1033.5C1160.6 1035.1 1161.7 1036.8 1162.8 1038.4C1163.9 1040.1 1165 1041.7 1166.1 1043.4C1167.2 1045.1 1168.2 1046.8 1169.2 1048.5C1170.3 1050.3 1171.2 1052 1172.2 1053.8C1173.1 1055.5 1174.1 1057.3 1174.9 1059.1C1175.8 1060.9 1176.6 1062.7 1177.4 1064.5C1178.3 1066.3 1179 1068.2 1179.8 1070C1180.6 1071.9 1181.3 1073.7 1182 1075.6C1182.8 1077.5 1183.5 1079.3 1184.2 1081.2C1184.9 1083 1185.6 1084.9 1186.3 1086.8C1187 1088.6 1187.8 1090.5 1188.5 1092.4C1189.2 1094.2 1189.9 1096.1 1190.6 1098C1191.3 1099.8 1192.1 1101.7 1192.8 1103.6C1193.5 1105.4 1194.3 1107.3 1195 1109.1C1195.7 1111 1196.5 1112.8 1197.2 1114.7C1198 1116.5 1198.7 1118.4 1199.5 1120.2C1200.3 1122.1 1201 1123.9 1201.8 1125.8C1202.6 1127.6 1203.3 1129.5 1204.1 1131.3C1204.9 1133.1 1205.6 1135 1206.4 1136.8C1207.2 1138.7 1208 1140.5 1208.8 1142.3C1209.6 1144.2 1210.4 1146 1211.2 1147.8C1211.9 1149.7 1212.7 1151.5 1213.5 1153.3C1214.4 1155.2 1215.2 1157 1216 1158.8C1216.8 1160.6 1217.6 1162.5 1218.4 1164.3C1219.3 1166.1 1220.1 1167.9 1221 1169.7C1221.8 1171.5 1222.7 1173.3 1223.6 1175.1C1224.4 1176.9 1225.3 1178.7 1226.2 1180.5C1227.2 1182.2 1228.1 1184 1229 1185.8C1230 1187.5 1231 1189.3 1232 1191C1233 1192.7 1234 1194.4 1235.1 1196.1C1236.1 1197.8 1237.2 1199.5 1238.3 1201.2C1239.4 1202.8 1240.5 1204.5 1241.7 1206.1C1242.8 1207.8 1243.9 1209.4 1245.1 1211C1246.3 1212.7 1247.5 1214.3 1248.7 1215.9C1249.8 1217.5 1251.1 1219 1252.3 1220.6C1253.5 1222.2 1254.7 1223.8 1256 1225.3C1257.2 1226.9 1258.5 1228.5 1259.7 1230C1261 1231.6 1262.3 1233.1 1263.5 1234.7C1264.8 1236.2 1266.1 1237.7 1267.4 1239.3C1268.6 1240.8 1269.9 1242.3 1271.2 1243.8C1272.5 1245.3 1273.8 1246.8 1275.2 1248.3C1276.5 1249.8 1277.8 1251.3 1279.2 1252.7C1280.5 1254.2 1281.9 1255.6 1283.3 1257C1284.7 1258.4 1286.1 1259.8 1287.6 1261.1C1289.1 1262.4 1290.8 1263.9 1292.2 1264.9C1293.6 1265.9 1294.6 1266.4 1296 1267.2C1297.4 1268 1299 1269 1300.5 1269.8C1302 1270.6 1303.5 1271.5 1305 1272.2C1306.5 1272.9 1308.1 1273.6 1309.6 1274.1C1311.1 1274.6 1312.5 1275 1314 1275.3C1315.5 1275.6 1317.2 1275.8 1318.7 1275.9C1320.2 1276.1 1321.5 1276.1 1323 1276.2C1324.5 1276.3 1326.3 1276.4 1327.9 1276.6C1329.5 1276.8 1331 1277.2 1332.5 1277.6C1334 1278 1335.5 1278.6 1337 1279C1338.5 1279.4 1340 1279.8 1341.5 1280.2C1343 1280.6 1344.7 1281 1346.1 1281.3C1347.5 1281.6 1348.5 1281.8 1350 1282.1C1351.5 1282.4 1353.4 1282.8 1355.2 1283.1C1357.1 1283.5 1359.1 1283.9 1361.1 1284.2C1363.1 1284.6 1365 1284.9 1367 1285.3C1369 1285.6 1370.9 1286 1372.9 1286.3C1374.9 1286.7 1376.8 1287 1378.8 1287.4C1380.8 1287.7 1382.7 1288 1384.7 1288.4C1386.7 1288.7 1388.7 1289 1390.6 1289.3C1392.6 1289.7 1394.6 1290 1396.5 1290.3C1398.5 1290.6 1400.5 1290.9 1402.5 1291.2C1404.4 1291.5 1406.4 1291.8 1408.4 1292.1C1410.4 1292.4 1412.3 1292.7 1414.3 1293C1416.3 1293.2 1418.3 1293.5 1420.3 1293.8C1422.2 1294.1 1424.2 1294.3 1426.2 1294.6C1428.2 1294.9 1430.2 1295.1 1432.1 1295.4C1434.1 1295.6 1436.1 1295.9 1438.1 1296.2C1440.1 1296.4 1442 1296.6 1444 1296.9C1446 1297.1 1448 1297.4 1450 1297.6C1452 1297.8 1453.9 1298.1 1455.9 1298.3C1457.9 1298.5 1459.9 1298.8 1461.9 1299C1463.9 1299.2 1465.8 1299.4 1467.8 1299.6C1469.8 1299.8 1471.8 1300.1 1473.8 1300.3C1475.8 1300.5 1477.8 1300.7 1479.8 1300.9C1481.7 1301.1 1483.7 1301.3 1485.7 1301.5C1487.7 1301.7 1489.7 1301.9 1491.7 1302C1493.7 1302.2 1495.7 1302.4 1497.6 1302.6C1499.6 1302.8 1501.6 1303 1503.6 1303.2C1505.6 1303.3 1507.6 1303.5 1509.6 1303.7C1511.6 1303.9 1513.6 1304 1515.6 1304.2C1517.5 1304.4 1519.5 1304.5 1521.5 1304.7C1523.5 1304.9 1525.5 1305 1527.5 1305.2C1529.5 1305.4 1531.5 1305.5 1533.5 1305.7C1535.5 1305.8 1537.5 1306 1539.4 1306.1C1541.4 1306.3 1543.4 1306.5 1545.4 1306.6C1547.4 1306.8 1549.4 1306.9 1551.4 1307.1C1553.4 1307.3 1555.4 1307.4 1557.4 1307.6C1559.4 1307.7 1561.3 1307.9 1563.3 1308.1C1565.3 1308.2 1567.3 1308.4 1569.3 1308.6C1571.3 1308.7 1573.3 1308.9 1575.3 1309C1577.3 1309.2 1579.3 1309.4 1581.3 1309.5C1583.2 1309.7 1585.2 1309.9 1587.2 1310C1589.2 1310.2 1591.2 1310.4 1593.2 1310.5C1595.2 1310.7 1597.2 1310.9 1599.2 1311C1601.2 1311.2 1603.1 1311.4 1605.1 1311.6C1607.1 1311.7 1609.1 1311.9 1611.1 1312.1C1613.1 1312.2 1615.1 1312.4 1617.1 1312.6C1619.1 1312.7 1620.9 1312.9 1623.1 1313C1625.2 1313.2 1627 1313.3 1630 1313.5C1633 1313.7 1637.2 1314.2 1641 1314.5C1644.8 1314.8 1649.7 1315.2 1653 1315.5C1656.3 1315.8 1659.1 1316.2 1661 1316.4C1662.9 1316.6 1663.4 1316.9 1664.5 1316.8C1665.6 1316.7 1666.5 1316.1 1667.5 1315.6C1668.5 1315.1 1669.5 1314.5 1670.5 1314C1671.5 1313.5 1672.3 1313.1 1673.5 1312.8C1674.7 1312.5 1676.2 1312.4 1677.5 1312.4C1678.8 1312.4 1680.2 1312.5 1681.5 1312.7C1682.8 1312.9 1683.2 1313.2 1685 1313.5C1686.8 1313.8 1688.7 1314.2 1692 1314.5C1695.3 1314.8 1700.8 1315.2 1705 1315.5C1709.2 1315.8 1713.7 1316.2 1717 1316.5C1720.3 1316.8 1722.7 1317.2 1725 1317.4C1727.3 1317.6 1728.9 1317.6 1730.8 1317.7C1732.8 1317.7 1734.8 1317.8 1736.8 1317.9C1738.8 1317.9 1740.8 1318 1742.8 1318.1C1744.8 1318.2 1746.8 1318.2 1748.8 1318.3C1750.8 1318.4 1752.8 1318.5 1754.7 1318.6C1756.7 1318.7 1758.7 1318.8 1760.7 1319C1762.7 1319.1 1764.7 1319.2 1766.7 1319.4C1768.7 1319.5 1770.7 1319.6 1772.7 1319.7C1774.7 1319.9 1776.7 1320 1778.7 1320.1C1780.7 1320.3 1782.7 1320.4 1784.6 1320.5C1786.6 1320.7 1788.6 1320.8 1790.6 1320.9C1792.6 1321.1 1794.6 1321.2 1796.6 1321.3C1798.6 1321.5 1800.6 1321.6 1802.6 1321.8C1804.6 1321.9 1806.6 1322 1808.6 1322.2C1810.5 1322.3 1812.5 1322.4 1814.5 1322.6C1816.5 1322.7 1818.5 1322.8 1820.5 1323C1822.5 1323.1 1824.5 1323.2 1826.5 1323.4C1828.5 1323.5 1830.5 1323.6 1832.5 1323.7C1834.5 1323.9 1836.5 1324 1838.5 1324.1C1840.4 1324.2 1842.4 1324.4 1844.4 1324.5C1846.4 1324.6 1848.4 1324.7 1850.4 1324.8C1852.4 1324.9 1854.4 1325.1 1856.4 1325.2C1858.4 1325.3 1860.4 1325.4 1862.4 1325.5C1864.4 1325.6 1866.4 1325.7 1868.4 1325.8C1870.4 1325.9 1872.4 1326 1874.4 1326.1C1876.3 1326.2 1878.3 1326.3 1880.3 1326.4C1882.3 1326.5 1884.3 1326.5 1886.3 1326.6C1888.3 1326.7 1890.3 1326.8 1892.3 1326.9C1894.3 1327 1896.3 1327 1898.3 1327.1C1900.3 1327.2 1902.3 1327.3 1904.3 1327.3C1906.3 1327.4 1908.3 1327.5 1910.3 1327.6C1912.3 1327.6 1914.3 1327.7 1916.3 1327.8C1918.3 1327.9 1920.3 1327.9 1922.3 1328C1924.2 1328.1 1926.2 1328.2 1928.2 1328.3C1930.2 1328.4 1932.2 1328.5 1934.2 1328.6C1936.2 1328.6 1938.2 1328.7 1940.2 1328.8C1942.2 1328.9 1944.2 1329.1 1946.2 1329.2C1948.2 1329.3 1950.2 1329.4 1952.2 1329.5C1954.2 1329.6 1956.2 1329.7 1958.2 1329.9C1960.2 1330 1962.1 1330.1 1964.1 1330.2C1966.1 1330.4 1968.1 1330.5 1970.1 1330.6C1972.1 1330.8 1974.1 1330.9 1976.1 1331C1978.1 1331.2 1980.1 1331.3 1982.1 1331.4C1984.1 1331.6 1986.1 1331.7 1988.1 1331.9C1990 1332 1992 1332.1 1994 1332.3C1996 1332.4 1998 1332.5 2000 1332.7C2002 1332.8 2004 1332.9 2006 1333.1C2008 1333.2 2010 1333.3 2012 1333.5C2014 1333.6 2016 1333.7 2017.9 1333.9C2019.9 1334 2021.9 1334.1 2023.9 1334.3C2025.9 1334.4 2027.9 1334.6 2029.9 1334.7C2031.9 1334.8 2033.9 1335 2035.9 1335.1C2037.9 1335.3 2039.9 1335.4 2041.9 1335.5C2043.9 1335.7 2045.8 1335.8 2047.8 1336C2049.8 1336.1 2051.8 1336.3 2053.8 1336.4C2055.8 1336.6 2057.8 1336.7 2059.8 1336.9C2061.8 1337 2063.8 1337.2 2065.8 1337.3C2067.8 1337.5 2069.7 1337.7 2071.7 1337.8C2073.7 1338 2075.7 1338.2 2077.7 1338.3C2079.7 1338.5 2081.7 1338.7 2083.7 1338.8C2085.7 1339 2087.7 1339.2 2089.6 1339.4C2091.6 1339.6 2093.6 1339.7 2095.6 1339.9C2097.6 1340.1 2099.6 1340.3 2101.6 1340.5C2103.6 1340.7 2105.5 1341 2107.5 1341.1C2109.5 1341.2 2111.6 1341.1 2113.5 1341.1C2115.4 1341.1 2118.1 1341.1 2119 1341.1"/>
<path stroke="#00ffff" d="M335.2 53.6C335.3 53.7 335 53.3 335.8 54.7C336.6 56.1 338.8 59.7 340.2 62C341.5 64.2 343.1 67.1 343.8 68.4C344.6 69.6 343.5 69.1 344.6 69.6C345.7 70.1 348.4 70.7 350.2 71.5C352 72.4 353.7 73.6 355.3 74.7C357 75.8 358.6 76.9 360.3 78.1C361.9 79.2 363.5 80.4 365.1 81.6C366.7 82.8 368.3 84 369.8 85.3C371.4 86.5 372.9 87.8 374.5 89.1C376 90.4 377.5 91.7 379 93C380.5 94.4 381.9 95.7 383.4 97.1C384.8 98.5 386.2 99.9 387.6 101.4C389 102.8 390.4 104.2 391.8 105.7C393.1 107.1 394.5 108.6 395.8 110.1C397.1 111.6 398.4 113.1 399.7 114.6C401 116.2 402.3 117.7 403.6 119.2C404.8 120.8 406.1 122.3 407.3 123.9C408.6 125.5 409.8 127 411.1 128.6C412.3 130.2 413.5 131.8 414.7 133.3C415.9 134.9 417.1 136.5 418.3 138.1C419.5 139.7 420.7 141.3 421.9 142.9C423.1 144.5 424.3 146.1 425.5 147.7C426.7 149.3 427.9 150.9 429.1 152.5C430.3 154.1 431.5 155.7 432.7 157.3C433.9 158.9 435.1 160.5 436.3 162.1C437.5 163.7 438.7 165.3 440 166.9C441.2 168.4 442.4 170 443.7 171.6C444.9 173.1 446.2 174.7 447.5 176.2C448.8 177.7 450 179.3 451.4 180.8C452.7 182.3 454 183.8 455.3 185.2C456.7 186.7 458.1 188.2 459.4 189.6C460.8 191.1 462.2 192.5 463.6 193.9C465.1 195.3 466.5 196.7 468 198C469.4 199.4 470.9 200.7 472.4 202.1C473.9 203.4 475.4 204.7 477 206C478.5 207.2 480.1 208.5 481.6 209.7C483.2 210.9 484.8 212.1 486.5 213.3C488.1 214.4 489.7 215.6 491.4 216.7C493.1 217.8 494.8 218.8 496.5 219.8C498.2 220.9 499.9 221.9 501.7 222.8C503.4 223.8 505.2 224.7 507 225.6C508.8 226.4 510.6 227.3 512.4 228.1C514.3 228.9 516.1 229.7 518 230.4C519.8 231.2 521.7 231.9 523.6 232.6C525.4 233.2 527.3 233.9 529.2 234.5C531.1 235.1 533 235.7 535 236.3C536.9 236.8 538.8 237.4 540.7 237.9C542.7 238.4 544.6 238.9 546.6 239.3C548.5 239.8 550.5 240.2 552.4 240.6C554.4 241 556.3 241.4 558.3 241.7C560.3 242.1 562.2 242.4 564.2 242.7C566.2 243 568.2 243.3 570.1 243.6C572.1 243.9 574.1 244.1 576.1 244.4C578.1 244.6 580 244.8 582 245C584 245.3 586 245.5 588 245.6C590 245.8 592 246 594 246.2C596 246.3 598 246.5 599.9 246.6C601.9 246.8 603.9 246.9 605.9 247C607.9 247.2 609.9 247.3 611.9 247.4C613.9 247.5 615.9 247.6 617.9 247.7C619.9 247.8 621.9 248 623.9 248.1C625.9 248.2 627.9 248.2 629.9 248.3C631.9 248.4 633.9 248.5 635.9 248.6C637.8 248.7 639.8 248.8 641.8 248.9C643.8 248.9 645.8 249 647.8 249.1C649.8 249.2 651.8 249.2 653.8 249.3C655.8 249.4 657.8 249.4 659.8 249.5C661.8 249.6 663.8 249.6 665.8 249.7C667.8 249.8 669.8 249.8 671.8 249.9C673.8 249.9 675.8 250 677.8 250.1C679.8 250.1 681.8 250.2 683.8 250.2C685.8 250.3 687.8 250.3 689.8 250.4C691.8 250.4 693.8 250.5 695.8 250.5C697.8 250.6 699.7 250.6 701.7 250.7C703.7 250.7 705.7 250.8 707.7 250.8C709.7 250.9 711.7 251 713.7 251C715.7 251.1 717.7 251.1 719.7 251.2C721.7 251.2 723.7 251.3 725.7 251.3C727.7 251.4 729.7 251.4 731.7 251.5C733.7 251.6 735.7 251.6 737.7 251.7C739.7 251.7 741.7 251.8 743.7 251.9C745.7 251.9 747.7 252 749.7 252.1C751.7 252.1 753.7 252.2 755.7 252.3C757.7 252.4 759.7 252.5 761.7 252.5C763.7 252.6 765.6 252.7 767.6 252.8C769.6 252.9 771.6 253 773.6 253.1C775.6 253.2 777.6 253.3 779.6 253.5C781.6 253.6 783.6 253.7 785.6 253.8C787.6 254 789.6 254.1 791.6 254.3C793.6 254.4 795.6 254.6 797.5 254.7C799.5 254.9 801.5 255.1 803.5 255.3C805.5 255.5 807.5 255.7 809.5 255.9C811.5 256.1 813.4 256.3 815.4 256.6C817.4 256.8 819.4 257.1 821.4 257.4C823.4 257.7 825.3 258 827.3 258.3C829.3 258.6 831.2 258.9 833.2 259.3C835.2 259.7 837.1 260.1 839.1 260.5C841 260.9 843 261.4 844.9 261.9C846.8 262.4 848.8 262.9 850.7 263.5C852.6 264.1 854.5 264.7 856.3 265.5C858.2 266.2 860 267 861.9 267.8C863.7 268.7 865.4 269.6 867.2 270.6C868.9 271.6 870.6 272.7 872.2 273.8C873.9 274.9 875.5 276.1 877 277.4C878.6 278.6 880.1 279.9 881.7 281.2C883.2 282.5 884.6 283.8 886.1 285.2C887.5 286.6 889 288 890.4 289.4C891.7 290.9 893.1 292.3 894.4 293.8C895.8 295.3 897.1 296.8 898.3 298.4C899.6 299.9 900.8 301.5 902 303.1C903.2 304.7 904.3 306.4 905.4 308C906.6 309.7 907.6 311.4 908.7 313.1C909.7 314.8 910.8 316.5 911.8 318.2C912.8 319.9 913.8 321.7 914.7 323.4C915.7 325.2 916.6 326.9 917.6 328.7C918.5 330.5 919.4 332.2 920.4 334C921.3 335.8 922.2 337.5 923.1 339.3C924 341.1 924.9 342.9 925.8 344.7C926.7 346.4 927.7 348.2 928.6 350C929.5 351.8 930.4 353.6 931.3 355.3C932.2 357.1 933.1 358.9 934 360.7C934.9 362.5 935.8 364.3 936.6 366.1C937.5 367.9 938.4 369.7 939.3 371.5C940.1 373.2 941 375.1 941.9 376.9C942.7 378.7 943.5 380.5 944.4 382.3C945.2 384.1 946 385.9 946.8 387.8C947.6 389.6 948.4 391.5 949.1 393.3C949.9 395.1 950.6 397 951.4 398.9C952.1 400.7 952.8 402.6 953.5 404.5C954.2 406.3 954.8 408.2 955.5 410.1C956.1 412 956.8 413.9 957.4 415.8C958 417.7 958.6 419.6 959.2 421.5C959.8 423.4 960.3 425.3 960.9 427.3C961.5 429.2 962 431.1 962.6 433C963.1 434.9 963.7 436.9 964.2 438.8C964.7 440.7 965.3 442.6 965.8 444.6C966.3 446.5 966.8 448.4 967.3 450.4C967.9 452.3 968.4 454.2 968.9 456.1C969.4 458.1 969.9 460 970.4 461.9C970.9 463.9 971.4 465.8 972 467.7C972.5 469.7 973 471.6 973.5 473.5C974 475.5 974.5 477.4 975.1 479.3C975.6 481.2 976.1 483.2 976.6 485.1C977.1 487 977.7 489 978.2 490.9C978.7 492.8 979.2 494.7 979.7 496.7C980.3 498.6 980.8 500.5 981.3 502.5C981.9 504.4 982.4 506.3 982.9 508.2C983.4 510.2 984 512.1 984.5 514C985 515.9 985.5 517.9 986.1 519.8C986.6 521.7 987.1 523.7 987.6 525.6C988.1 527.5 988.7 529.4 989.2 531.4C989.7 533.3 990.2 535.2 990.7 537.2C991.2 539.1 991.7 541 992.2 543C992.7 544.9 993.2 546.8 993.7 548.8C994.2 550.7 994.7 552.6 995.2 554.6C995.7 556.5 996.2 558.5 996.6 560.4C997.1 562.3 997.6 564.3 998.1 566.2C998.5 568.2 999 570.1 999.5 572.1C999.9 574 1000.4 575.9 1000.8 577.9C1001.3 579.8 1001.8 581.8 1002.2 583.7C1002.7 585.7 1003.1 587.6 1003.6 589.6C1004 591.5 1004.5 593.5 1004.9 595.4C1005.4 597.3 1005.8 599.3 1006.3 601.2C1006.7 603.2 1007.2 605.1 1007.6 607.1C1008.1 609 1008.5 611 1008.9 612.9C1009.4 614.9 1009.8 616.8 1010.3 618.8C1010.7 620.7 1011.2 622.7 1011.6 624.6C1012.1 626.6 1012.5 628.5 1013 630.4C1013.4 632.4 1013.9 634.3 1014.3 636.3C1014.7 638.2 1015.2 640.2 1015.6 642.1C1016.1 644.1 1016.5 646 1016.9 648C1017.4 649.9 1017.8 651.9 1018.2 653.8C1018.7 655.8 1019.1 657.7 1019.5 659.7C1019.9 661.6 1020.3 663.6 1020.8 665.6C1021.2 667.5 1021.6 669.5 1022 671.4C1022.4 673.4 1022.8 675.3 1023.2 677.3C1023.6 679.3 1024 681.2 1024.4 683.2C1024.7 685.1 1025.1 687.1 1025.5 689.1C1025.9 691 1026.2 693 1026.6 695C1027 696.9 1027.3 698.9 1027.7 700.9C1028 702.8 1028.3 704.8 1028.7 706.8C1029 708.7 1029.3 710.7 1029.7 712.7C1030 714.6 1030.3 716.6 1030.7 718.6C1031 720.6 1031.3 722.5 1031.6 724.5C1031.9 726.5 1032.3 728.4 1032.6 730.4C1032.9 732.4 1033.2 734.4 1033.5 736.3C1033.8 738.3 1034.2 740.3 1034.5 742.2C1034.8 744.2 1035.1 746.2 1035.4 748.2C1035.8 750.1 1036.1 752.1 1036.4 754.1C1036.7 756 1037.1 758 1037.4 760C1037.7 762 1038 763.9 1038.4 765.9C1038.7 767.9 1039.1 769.8 1039.4 771.8C1039.7 773.8 1040.1 775.7 1040.4 777.7C1040.7 779.7 1041.1 781.7 1041.4 783.6C1041.8 785.6 1042.1 787.6 1042.5 789.5C1042.8 791.5 1043.2 793.5 1043.5 795.4C1043.9 797.4 1044.2 799.4 1044.5 801.3C1044.9 803.3 1045.2 805.3 1045.6 807.2C1045.9 809.2 1046.3 811.2 1046.6 813.1C1047 815.1 1047.3 817.1 1047.7 819C1048 821 1048.4 823 1048.7 824.9C1049.1 826.9 1049.4 828.9 1049.8 830.8C1050.1 832.8 1050.5 834.8 1050.8 836.7C1051.2 838.7 1051.5 840.7 1051.9 842.6C1052.2 844.6 1052.6 846.6 1052.9 848.5C1053.3 850.5 1053.6 852.5 1054 854.4C1054.4 856.4 1054.7 858.4 1055.1 860.3C1055.4 862.3 1055.8 864.3 1056.2 866.2C1056.5 868.2 1056.9 870.2 1057.2 872.1C1057.6 874.1 1058 876.1 1058.4 878C1058.7 880 1059.1 881.9 1059.5 883.9C1059.9 885.9 1060.3 887.8 1060.7 889.8C1061 891.7 1061.4 893.7 1061.8 895.7C1062.3 897.6 1062.7 899.6 1063.1 901.5C1063.5 903.5 1063.9 905.4 1064.4 907.4C1064.8 909.3 1065.3 911.3 1065.7 913.2C1066.2 915.2 1066.7 917.1 1067.1 919C1067.6 921 1068.1 922.9 1068.6 924.8C1069.1 926.8 1069.6 928.7 1070.2 930.6C1070.7 932.6 1071.3 934.5 1071.8 936.4C1072.4 938.3 1073 940.2 1073.6 942.1C1074.2 944 1074.8 945.9 1075.4 947.8C1076.1 949.7 1076.7 951.6 1077.4 953.5C1078.1 955.4 1078.8 957.2 1079.5 959.1C1080.2 961 1081 962.8 1081.8 964.6C1082.6 966.5 1083.4 968.3 1084.2 970.1C1085.1 971.9 1086 973.7 1086.9 975.5C1087.8 977.3 1088.8 979 1089.8 980.7C1090.8 982.4 1091.9 984.2 1092.9 985.8C1094 987.5 1095.1 989.2 1096.2 990.8C1097.3 992.5 1098.5 994.1 1099.7 995.8C1100.8 997.4 1102 999 1103.2 1000.6C1104.3 1002.2 1105.5 1003.8 1106.7 1005.4C1107.9 1007 1109.1 1008.6 1110.3 1010.2C1111.6 1011.8 1112.8 1013.4 1114 1015C1115.2 1016.6 1116.4 1018.2 1117.6 1019.8C1118.8 1021.3 1120 1022.9 1121.2 1024.5C1122.4 1026.1 1123.6 1027.7 1124.8 1029.3C1126 1030.9 1127.2 1032.5 1128.4 1034.1C1129.6 1035.7 1130.8 1037.3 1132 1038.9C1133.2 1040.5 1134.4 1042.2 1135.5 1043.8C1136.7 1045.4 1137.9 1047 1139.1 1048.6C1140.3 1050.2 1141.5 1051.8 1142.7 1053.4C1143.9 1055 1145.1 1056.6 1146.3 1058.2C1147.5 1059.7 1148.8 1061.3 1150 1062.9C1151.2 1064.5 1152.5 1066 1153.8 1067.6C1155 1069.1 1156.3 1070.6 1157.6 1072.1C1158.9 1073.6 1160.3 1075.1 1161.6 1076.6C1163 1078.1 1164.3 1079.5 1165.7 1081C1167.1 1082.4 1168.5 1083.8 1169.9 1085.3C1171.3 1086.7 1172.7 1088.1 1174.2 1089.5C1175.6 1090.9 1177 1092.3 1178.4 1093.7C1179.9 1095.1 1181.3 1096.5 1182.7 1097.9C1184.2 1099.3 1185.6 1100.7 1187 1102.1C1188.4 1103.5 1189.9 1104.9 1191.3 1106.3C1192.7 1107.7 1194.1 1109.1 1195.5 1110.5C1196.9 1111.9 1198.3 1113.3 1199.7 1114.8C1201.1 1116.2 1202.5 1117.7 1203.8 1119.2C1205.2 1120.6 1206.5 1122.1 1207.8 1123.7C1209.1 1125.2 1210.4 1126.7 1211.6 1128.3C1212.9 1129.8 1214.1 1131.4 1215.3 1133C1216.5 1134.6 1217.7 1136.2 1218.9 1137.8C1220.1 1139.4 1221.2 1141 1222.3 1142.7C1223.5 1144.3 1224.6 1146 1225.7 1147.6C1226.8 1149.3 1227.9 1151 1229 1152.6C1230.1 1154.3 1231.2 1156 1232.3 1157.7C1233.3 1159.4 1234.4 1161 1235.5 1162.7C1236.6 1164.4 1237.6 1166.1 1238.7 1167.8C1239.8 1169.5 1240.9 1171.1 1242 1172.8C1243 1174.5 1244.1 1176.2 1245.2 1177.8C1246.3 1179.5 1247.5 1181.2 1248.6 1182.8C1249.7 1184.5 1250.8 1186.1 1252 1187.7C1253.1 1189.4 1254.3 1191 1255.5 1192.6C1256.7 1194.2 1257.9 1195.8 1259.1 1197.4C1260.3 1199 1261.5 1200.6 1262.7 1202.2C1263.9 1203.8 1265.2 1205.3 1266.4 1206.9C1267.6 1208.5 1268.9 1210 1270.2 1211.6C1271.4 1213.1 1272.7 1214.7 1273.9 1216.2C1275.2 1217.8 1276.5 1219.3 1277.8 1220.8C1279.1 1222.3 1280.4 1223.9 1281.7 1225.3C1283 1226.8 1284.4 1228.3 1285.7 1229.8C1287.1 1231.3 1288.4 1232.7 1289.8 1234.2C1291.2 1235.6 1292.6 1237 1294.1 1238.4C1295.5 1239.8 1297 1241.2 1298.4 1242.5C1299.9 1243.8 1301.4 1245.2 1303 1246.4C1304.5 1247.7 1306.1 1248.9 1307.7 1250.1C1309.3 1251.3 1311 1252.4 1312.7 1253.5C1314.4 1254.5 1316.1 1255.5 1317.9 1256.5C1319.6 1257.4 1321.4 1258.2 1323.3 1259.1C1325.1 1259.9 1326.9 1260.6 1328.8 1261.3C1330.7 1262 1332.6 1262.7 1334.5 1263.3C1336.4 1263.9 1338.3 1264.5 1340.2 1265.1C1342.1 1265.6 1344 1266.2 1346 1266.7C1347.9 1267.2 1349.8 1267.7 1351.8 1268.2C1353.7 1268.7 1355.6 1269.2 1357.6 1269.7C1359.5 1270.2 1361.5 1270.6 1363.4 1271.1C1365.3 1271.5 1367.3 1272 1369.2 1272.4C1371.2 1272.9 1373.1 1273.3 1375.1 1273.7C1377 1274.2 1379 1274.6 1380.9 1275C1382.9 1275.4 1384.9 1275.8 1386.8 1276.3C1388.8 1276.7 1390.7 1277.1 1392.7 1277.5C1394.6 1277.9 1396.6 1278.3 1398.5 1278.7C1400.5 1279.1 1402.5 1279.5 1404.4 1279.9C1406.4 1280.3 1408.3 1280.7 1410.3 1281.1C1412.2 1281.5 1414.2 1281.9 1416.2 1282.3C1418.1 1282.7 1420.1 1283 1422.1 1283.4C1424 1283.8 1426 1284.2 1427.9 1284.5C1429.9 1284.9 1431.9 1285.3 1433.8 1285.6C1435.8 1286 1437.8 1286.4 1439.7 1286.7C1441.7 1287.1 1443.7 1287.4 1445.6 1287.8C1447.6 1288.1 1449.6 1288.5 1451.5 1288.8C1453.5 1289.1 1455.5 1289.5 1457.4 1289.8C1459.4 1290.2 1461.4 1290.5 1463.3 1290.9C1465.3 1291.2 1467.3 1291.5 1469.2 1291.9C1471.2 1292.2 1473.2 1292.6 1475.1 1292.9C1477.1 1293.3 1479.1 1293.6 1481.1 1294C1483 1294.3 1485 1294.7 1487 1295C1488.9 1295.4 1490.9 1295.7 1492.8 1296.1C1494.8 1296.5 1496.8 1296.8 1498.7 1297.2C1500.7 1297.6 1502.7 1297.9 1504.6 1298.3C1506.6 1298.7 1508.6 1299.1 1510.5 1299.5C1512.5 1299.9 1514.4 1300.3 1516.4 1300.7C1518.3 1301.1 1520.3 1301.5 1522.3 1301.9C1524.2 1302.3 1526.2 1302.7 1528.1 1303.1C1530.1 1303.6 1532 1304 1534 1304.4C1535.9 1304.9 1537.9 1305.3 1539.8 1305.8C1541.8 1306.2 1543.7 1306.7 1545.6 1307.1C1547.6 1307.6 1549.5 1308.1 1551.5 1308.5C1553.4 1309 1555.4 1309.5 1557.3 1310C1559.2 1310.5 1561.2 1310.9 1563.1 1311.4C1565 1311.9 1567 1312.4 1568.9 1313C1570.8 1313.5 1572.8 1314 1574.7 1314.5C1576.6 1315 1578.6 1315.5 1580.5 1316C1582.4 1316.6 1584.3 1317.1 1586.3 1317.6C1588.2 1318.2 1590.1 1318.7 1592 1319.2C1594 1319.8 1595.9 1320.3 1597.8 1320.9C1599.7 1321.4 1601.6 1322 1603.6 1322.5C1605.5 1323.1 1607.4 1323.7 1609.3 1324.2C1611.2 1324.8 1613.1 1325.4 1615.1 1325.9C1617 1326.5 1618.9 1327.1 1620.8 1327.7C1622.7 1328.3 1624.6 1328.9 1626.5 1329.5C1628.4 1330.1 1630.3 1330.7 1632.2 1331.3C1634.1 1331.9 1636 1332.5 1637.9 1333.1C1639.8 1333.7 1641.7 1334.3 1643.6 1335C1645.5 1335.6 1647.4 1336.2 1649.3 1336.8C1651.2 1337.5 1653.1 1338.1 1655 1338.7C1656.9 1339.3 1658.8 1340 1660.7 1340.6C1662.6 1341.2 1664.5 1341.8 1666.4 1342.5C1668.3 1343.1 1670.2 1343.7 1672.1 1344.3C1674 1344.9 1675.9 1345.6 1677.8 1346.2C1679.7 1346.8 1681.6 1347.4 1683.5 1348.1C1685.4 1348.7 1687.3 1349.3 1689.2 1349.9C1691.1 1350.5 1693 1351.2 1694.9 1351.8C1696.8 1352.4 1698.7 1353.1 1700.6 1353.7C1702.4 1354.4 1704.3 1355 1706.2 1355.7C1708.1 1356.4 1710 1357 1711.9 1357.7C1713.7 1358.4 1715.6 1359.1 1717.5 1359.8C1719.3 1360.5 1721.2 1361.2 1723.1 1362C1724.9 1362.7 1726.8 1363.4 1728.7 1364.1C1730.5 1364.8 1732.4 1365.5 1734.3 1366.3C1736.1 1367 1738 1367.7 1739.9 1368.4C1741.7 1369.1 1743.6 1369.9 1745.5 1370.6C1747.3 1371.3 1749.2 1372 1751.1 1372.7C1752.9 1373.4 1754.8 1374.1 1756.7 1374.8C1758.5 1375.5 1760.4 1376.2 1762.3 1376.8C1764.2 1377.5 1766.1 1378.2 1768 1378.8C1769.8 1379.5 1771.7 1380.1 1773.6 1380.8C1775.5 1381.4 1777.4 1382.1 1779.3 1382.7C1781.2 1383.4 1783.1 1384 1785 1384.6C1786.9 1385.3 1788.8 1385.9 1790.7 1386.5C1792.6 1387.2 1794.5 1387.8 1796.4 1388.4C1798.3 1389 1800.2 1389.6 1802.1 1390.3C1804 1390.9 1805.9 1391.5 1807.8 1392.1C1809.7 1392.7 1811.6 1393.3 1813.5 1394C1815.4 1394.6 1817.3 1395.2 1819.2 1395.8C1821.1 1396.4 1822.9 1397.1 1824.8 1397.7C1826.7 1398.3 1828.6 1398.9 1830.5 1399.6C1832.4 1400.2 1834.3 1400.8 1836.2 1401.4C1838.1 1402.1 1840 1402.7 1841.9 1403.3C1843.8 1404 1845.7 1404.6 1847.6 1405.3C1849.5 1405.9 1851.4 1406.5 1853.3 1407.2C1855.2 1407.9 1857 1408.5 1858.9 1409.2C1860.8 1409.8 1862.7 1410.5 1864.6 1411.2C1866.4 1411.9 1868.3 1412.6 1870.2 1413.3C1872.1 1414 1873.9 1414.9 1875.8 1415.4C1877.7 1415.8 1880.7 1416 1881.7 1416.1"/>
<path stroke="#000000" d="M320.9 52C321.9 51.9 324.9 51.6 326.9 51.6C328.9 51.7 330.9 52.1 332.9 52.4C334.8 52.7 336.8 53.1 338.8 53.5C340.7 53.9 342.7 54.3 344.6 54.7C346.6 55.1 348.5 55.6 350.5 56C352.4 56.5 354.4 57 356.3 57.5C358.3 58 360.2 58.5 362.1 59.1C364 59.6 366 60.2 367.9 60.8C369.8 61.3 371.7 61.9 373.6 62.6C375.5 63.2 377.4 63.8 379.3 64.5C381.2 65.2 383 65.8 384.9 66.5C386.8 67.2 388.7 68 390.5 68.7C392.4 69.4 394.2 70.2 396.1 70.9C397.9 71.7 399.8 72.4 401.6 73.2C403.5 74 405.3 74.8 407.1 75.6C409 76.4 410.8 77.2 412.6 78C414.5 78.8 416.3 79.6 418.1 80.5C419.9 81.3 421.8 82.1 423.6 82.9C425.4 83.8 427.2 84.6 429 85.5C430.8 86.3 432.7 87.1 434.5 88C436.3 88.8 438.1 89.7 439.9 90.5C441.7 91.4 443.5 92.2 445.4 93.1C447.2 93.9 449 94.7 450.8 95.6C452.6 96.4 454.4 97.3 456.2 98.1C458.1 99 459.9 99.8 461.7 100.6C463.5 101.4 465.3 102.3 467.2 103.1C469 103.9 470.8 104.7 472.7 105.5C474.5 106.3 476.3 107.1 478.2 107.9C480 108.7 481.9 109.4 483.7 110.2C485.6 110.9 487.4 111.6 489.3 112.4C491.2 113.1 493.1 113.8 494.9 114.4C496.8 115.1 498.7 115.8 500.6 116.4C502.5 117 504.4 117.6 506.3 118.2C508.2 118.8 510.2 119.4 512.1 120C514 120.5 515.9 121.1 517.9 121.6C519.8 122.1 521.7 122.6 523.7 123.1C525.6 123.6 527.5 124.1 529.5 124.5C531.4 125 533.4 125.4 535.3 125.9C537.3 126.3 539.3 126.7 541.2 127.1C543.2 127.5 545.1 127.9 547.1 128.3C549.1 128.6 551 129 553 129.3C555 129.6 557 130 558.9 130.3C560.9 130.6 562.9 130.9 564.9 131.2C566.9 131.4 568.8 131.7 570.8 131.9C572.8 132.2 574.8 132.4 576.8 132.6C578.8 132.9 580.8 133.1 582.8 133.3C584.7 133.4 586.7 133.6 588.7 133.8C590.7 134 592.7 134.1 594.7 134.3C596.7 134.4 598.7 134.5 600.7 134.7C602.7 134.8 604.7 134.9 606.7 135C608.7 135.1 610.7 135.2 612.7 135.3C614.7 135.4 616.7 135.5 618.7 135.6C620.7 135.6 622.7 135.7 624.7 135.8C626.7 135.8 628.7 135.9 630.7 136C632.7 136 634.7 136.1 636.7 136.1C638.7 136.2 640.7 136.2 642.7 136.2C644.7 136.3 646.7 136.3 648.7 136.3C650.7 136.4 652.7 136.4 654.7 136.4C656.7 136.5 658.7 136.5 660.7 136.5C662.7 136.5 664.7 136.5 666.7 136.5C668.7 136.6 670.7 136.6 672.7 136.6C674.7 136.6 676.7 136.6 678.7 136.6C680.7 136.6 682.7 136.6 684.7 136.6C686.7 136.6 688.7 136.6 690.7 136.6C692.7 136.6 694.7 136.6 696.7 136.6C698.7 136.6 700.7 136.6 702.7 136.6C704.7 136.6 706.7 136.6 708.7 136.6C710.7 136.6 712.7 136.6 714.7 136.6C716.7 136.6 718.7 136.6 720.7 136.6C722.7 136.6 724.7 136.6 726.7 136.6C728.7 136.6 730.7 136.6 732.7 136.6C734.7 136.6 736.7 136.6 738.7 136.6C740.7 136.6 742.7 136.5 744.7 136.5C746.7 136.5 748.7 136.5 750.7 136.5C752.7 136.5 754.7 136.5 756.7 136.5C758.7 136.5 760.7 136.5 762.7 136.5C764.7 136.5 766.7 136.5 768.7 136.5C770.7 136.5 772.7 136.5 774.7 136.5C776.7 136.5 778.7 136.5 780.7 136.5C782.7 136.5 784.7 136.5 786.7 136.5C788.7 136.5 790.7 136.5 792.7 136.5C794.7 136.5 796.7 136.4 798.7 136.4C800.7 136.4 802.7 136.4 804.7 136.4C806.7 136.4 808.7 136.4 810.7 136.4C812.7 136.4 814.7 136.4 816.7 136.4C818.7 136.4 820.7 136.3 822.7 136.3C824.7 136.3 826.7 136.3 828.7 136.3C830.7 136.3 832.7 136.3 834.7 136.3C836.7 136.2 838.7 136.2 840.7 136.2C842.7 136.2 844.5 136.2 846.7 136.2C849 136.1 852.3 136.1 854.5 136.1C856.7 136.1 858.6 136.3 860 136.1C861.4 135.9 861.8 135.2 863 135.1C864.2 134.9 865.8 135 867.5 135C869.2 135 871.5 135 873.5 135C875.5 135 877 135 879.5 135.1C882 135.1 886.5 135 888.5 135.2C890.5 135.4 890.1 136 891.5 136.2C892.9 136.4 895.5 136.3 897 136.3C898.5 136.3 899.1 136.4 900.8 136.4C902.4 136.5 904.8 136.5 906.8 136.6C908.8 136.7 910.8 136.8 912.8 136.9C914.8 136.9 916.8 137 918.7 137.2C920.7 137.3 922.7 137.4 924.7 137.5C926.7 137.7 928.7 137.8 930.7 138C932.7 138.2 934.7 138.4 936.7 138.6C938.7 138.9 940.7 139.2 942.6 139.5C944.6 139.9 946.6 140.3 948.5 140.9C950.4 141.5 952.3 142.2 954 143.1C955.8 144 957.5 145.1 959.1 146.3C960.7 147.5 962.2 148.9 963.5 150.4C964.8 151.9 966 153.5 967.1 155.2C968.2 156.9 969.1 158.7 969.9 160.5C970.8 162.3 971.5 164.2 972.2 166C972.9 167.9 973.5 169.8 974.1 171.7C974.7 173.6 975.2 175.6 975.8 177.5C976.3 179.4 976.8 181.4 977.3 183.3C977.8 185.2 978.3 187.2 978.8 189.1C979.3 191.1 979.7 193 980.2 195C980.6 196.9 981 198.9 981.5 200.8C981.9 202.8 982.3 204.7 982.7 206.7C983.1 208.7 983.5 210.6 983.8 212.6C984.2 214.5 984.6 216.5 984.9 218.5C985.3 220.5 985.6 222.4 986 224.4C986.3 226.4 986.7 228.3 987 230.3C987.3 232.3 987.6 234.3 987.9 236.2C988.3 238.2 988.6 240.2 988.9 242.2C989.2 244.1 989.5 246.1 989.8 248.1C990.1 250.1 990.4 252.1 990.7 254C990.9 256 991.2 258 991.5 260C991.8 262 992.1 263.9 992.3 265.9C992.6 267.9 992.9 269.9 993.1 271.9C993.4 273.9 993.6 275.8 993.9 277.8C994.1 279.8 994.4 281.8 994.6 283.8C994.9 285.8 995.1 287.8 995.3 289.7C995.6 291.7 995.8 293.7 996 295.7C996.3 297.7 996.5 299.7 996.7 301.7C996.9 303.7 997.1 305.6 997.4 307.6C997.6 309.6 997.8 311.6 998 313.6C998.2 315.6 998.4 317.6 998.6 319.6C998.8 321.6 999 323.6 999.2 325.5C999.4 327.5 999.6 329.5 999.8 331.5C1000 333.5 1000.2 335.5 1000.4 337.5C1000.6 339.5 1000.8 341.5 1001 343.5C1001.2 345.4 1001.4 347.4 1001.6 349.4C1001.8 351.4 1002 353.4 1002.2 355.4C1002.4 357.4 1002.6 359.4 1002.8 361.4C1003 363.4 1003.2 365.4 1003.4 367.3C1003.6 369.3 1003.8 371.3 1004 373.3C1004.2 375.3 1004.4 377.3 1004.6 379.3C1004.8 381.3 1005 383.3 1005.2 385.3C1005.4 387.2 1005.6 389.2 1005.8 391.2C1006 393.2 1006.2 395.2 1006.4 397.2C1006.6 399.2 1006.9 401.2 1007.1 403.2C1007.3 405.2 1007.5 407.2 1007.7 409.1C1007.9 411.1 1008.1 413.1 1008.3 415.1C1008.5 417.1 1008.7 419.1 1008.9 421.1C1009.1 423.1 1009.3 425.1 1009.5 427.1C1009.7 429 1009.9 431 1010.1 433C1010.4 435 1010.6 437 1010.8 439C1011 441 1011.2 443 1011.4 445C1011.6 446.9 1011.9 448.9 1012.1 450.9C1012.3 452.9 1012.5 454.9 1012.7 456.9C1013 458.9 1013.2 460.9 1013.4 462.9C1013.6 464.8 1013.9 466.8 1014.1 468.8C1014.3 470.8 1014.6 472.8 1014.8 474.8C1015 476.8 1015.3 478.8 1015.5 480.7C1015.7 482.7 1016 484.7 1016.2 486.7C1016.4 488.7 1016.7 490.7 1016.9 492.7C1017.2 494.6 1017.4 496.6 1017.6 498.6C1017.9 500.6 1018.1 502.6 1018.4 504.6C1018.6 506.6 1018.9 508.5 1019.1 510.5C1019.4 512.5 1019.6 514.5 1019.9 516.5C1020.2 518.5 1020.4 520.4 1020.7 522.4C1020.9 524.4 1021.2 526.4 1021.5 528.4C1021.7 530.4 1022 532.3 1022.3 534.3C1022.5 536.3 1022.8 538.3 1023.1 540.3C1023.3 542.3 1023.6 544.2 1023.9 546.2C1024.2 548.2 1024.4 550.2 1024.7 552.2C1025 554.1 1025.3 556.1 1025.6 558.1C1025.9 560.1 1026.2 562.1 1026.5 564C1026.8 566 1027.1 568 1027.4 570C1027.7 571.9 1028 573.9 1028.4 575.9C1028.7 577.9 1029 579.8 1029.4 581.8C1029.7 583.8 1030.1 585.7 1030.4 587.7C1030.8 589.7 1031.2 591.7 1031.5 593.6C1031.9 595.6 1032.3 597.5 1032.7 599.5C1033.1 601.5 1033.5 603.4 1034 605.4C1034.4 607.3 1034.8 609.3 1035.3 611.2C1035.7 613.2 1036.2 615.1 1036.7 617.1C1037.1 619 1037.6 620.9 1038.1 622.9C1038.7 624.8 1039.2 626.8 1039.7 628.7C1040.3 630.6 1040.8 632.5 1041.4 634.4C1042 636.4 1042.6 638.3 1043.2 640.2C1043.8 642.1 1044.4 644 1045.1 645.9C1045.7 647.8 1046.4 649.6 1047.1 651.5C1047.8 653.4 1048.5 655.3 1049.2 657.1C1050 659 1050.7 660.8 1051.5 662.7C1052.3 664.5 1053 666.4 1053.9 668.2C1054.7 670 1055.5 671.8 1056.4 673.7C1057.2 675.5 1058.1 677.3 1059 679.1C1059.9 680.8 1060.8 682.6 1061.7 684.4C1062.7 686.2 1063.6 687.9 1064.6 689.7C1065.6 691.4 1066.6 693.1 1067.6 694.9C1068.6 696.6 1069.6 698.3 1070.7 700C1071.7 701.7 1072.8 703.4 1073.9 705.1C1075 706.8 1076.1 708.4 1077.2 710.1C1078.3 711.8 1079.4 713.4 1080.5 715.1C1081.6 716.8 1082.8 718.4 1083.9 720.1C1085 721.7 1086.2 723.4 1087.3 725C1088.4 726.6 1089.6 728.3 1090.7 729.9C1091.8 731.6 1093 733.2 1094.1 734.9C1095.3 736.5 1096.4 738.2 1097.5 739.8C1098.6 741.5 1099.8 743.1 1100.9 744.8C1102 746.4 1103.1 748.1 1104.3 749.7C1105.4 751.4 1106.5 753.1 1107.6 754.7C1108.7 756.4 1109.9 758 1111 759.7C1112.1 761.4 1113.2 763 1114.3 764.7C1115.5 766.3 1116.6 768 1117.7 769.6C1118.8 771.3 1120 772.9 1121.1 774.6C1122.2 776.2 1123.4 777.9 1124.5 779.5C1125.6 781.2 1126.8 782.8 1127.9 784.5C1129.1 786.1 1130.2 787.7 1131.4 789.4C1132.5 791 1133.7 792.6 1134.8 794.3C1136 795.9 1137.2 797.5 1138.3 799.2C1139.4 800.8 1140.6 802.5 1141.7 804.1C1142.9 805.8 1144 807.4 1145.1 809.1C1146.2 810.7 1147.3 812.4 1148.4 814.1C1149.5 815.7 1150.6 817.4 1151.7 819.1C1152.8 820.8 1153.8 822.5 1154.9 824.2C1155.9 825.9 1157 827.6 1158 829.3C1159 831 1160 832.8 1161 834.5C1162 836.2 1163 838 1163.9 839.7C1164.9 841.5 1165.9 843.3 1166.8 845C1167.7 846.8 1168.7 848.6 1169.6 850.3C1170.5 852.1 1171.4 853.9 1172.3 855.7C1173.2 857.5 1174 859.3 1174.9 861.1C1175.8 862.9 1176.6 864.7 1177.5 866.5C1178.3 868.3 1179.2 870.2 1180 872C1180.8 873.8 1181.6 875.6 1182.5 877.4C1183.3 879.3 1184.1 881.1 1184.9 882.9C1185.7 884.8 1186.5 886.6 1187.2 888.5C1188 890.3 1188.8 892.1 1189.6 894C1190.3 895.8 1191.1 897.7 1191.9 899.5C1192.6 901.4 1193.4 903.2 1194.1 905.1C1194.9 906.9 1195.6 908.8 1196.4 910.6C1197.2 912.5 1197.9 914.4 1198.7 916.2C1199.4 918.1 1200.2 919.9 1200.9 921.8C1201.7 923.6 1202.4 925.5 1203.2 927.3C1203.9 929.2 1204.7 931 1205.4 932.9C1206.2 934.8 1206.9 936.6 1207.7 938.5C1208.4 940.3 1209.2 942.2 1209.9 944C1210.7 945.9 1211.5 947.7 1212.2 949.6C1213 951.4 1213.7 953.3 1214.5 955.1C1215.2 957 1216 958.8 1216.7 960.7C1217.5 962.6 1218.2 964.4 1218.9 966.3C1219.7 968.1 1220.4 970 1221.1 971.9C1221.8 973.7 1222.6 975.6 1223.3 977.5C1224 979.3 1224.7 981.2 1225.4 983.1C1226.1 984.9 1226.8 986.8 1227.5 988.7C1228.2 990.6 1228.9 992.4 1229.6 994.3C1230.3 996.2 1231 998.1 1231.7 999.9C1232.4 1001.8 1233.1 1003.7 1233.8 1005.6C1234.5 1007.4 1235.2 1009.3 1235.9 1011.2C1236.6 1013.1 1237.3 1014.9 1238 1016.8C1238.8 1018.7 1239.5 1020.5 1240.2 1022.4C1240.9 1024.3 1241.7 1026.1 1242.4 1028C1243.2 1029.8 1243.9 1031.7 1244.7 1033.5C1245.4 1035.4 1246.2 1037.2 1247 1039.1C1247.8 1040.9 1248.6 1042.7 1249.4 1044.6C1250.2 1046.4 1251.1 1048.2 1251.9 1050C1252.8 1051.8 1253.7 1053.6 1254.6 1055.4C1255.5 1057.2 1256.4 1059 1257.3 1060.7C1258.2 1062.5 1259.2 1064.3 1260.1 1066C1261.1 1067.8 1262.1 1069.5 1263.1 1071.3C1264.1 1073 1265.1 1074.7 1266.1 1076.4C1267.1 1078.2 1268.2 1079.9 1269.3 1081.6C1270.3 1083.3 1271.4 1084.9 1272.5 1086.6C1273.6 1088.3 1274.7 1090 1275.8 1091.6C1276.9 1093.3 1278.1 1094.9 1279.2 1096.6C1280.3 1098.2 1281.5 1099.8 1282.7 1101.5C1283.8 1103.1 1285 1104.7 1286.2 1106.3C1287.4 1107.9 1288.6 1109.5 1289.9 1111.1C1291.1 1112.7 1292.3 1114.3 1293.6 1115.8C1294.8 1117.3 1296.1 1118.9 1297.5 1120.4C1298.8 1121.8 1300.2 1123.3 1301.7 1124.6C1303.1 1126 1304.7 1127.3 1306.3 1128.5C1307.9 1129.7 1309.6 1130.8 1311.3 1131.8C1313 1132.9 1314.7 1133.9 1316.5 1134.8C1318.2 1135.8 1320 1136.7 1321.8 1137.5C1323.6 1138.4 1325.4 1139.3 1327.2 1140.1C1329 1141 1330.9 1141.8 1332.7 1142.6C1334.5 1143.4 1336.4 1144.2 1338.2 1144.9C1340.1 1145.7 1341.9 1146.5 1343.8 1147.2C1345.6 1148 1347.5 1148.7 1349.4 1149.4C1351.2 1150.2 1353.1 1150.9 1355 1151.6C1356.8 1152.3 1358.7 1152.9 1360.6 1153.6C1362.5 1154.3 1364.4 1154.9 1366.3 1155.5C1368.2 1156.2 1370.1 1156.8 1372 1157.4C1373.9 1158 1375.8 1158.5 1377.8 1159.1C1379.7 1159.7 1381.6 1160.2 1383.5 1160.7C1385.5 1161.2 1387.4 1161.8 1389.3 1162.2C1391.3 1162.7 1393.2 1163.2 1395.2 1163.7C1397.1 1164.1 1399.1 1164.6 1401 1165C1403 1165.4 1404.9 1165.9 1406.9 1166.3C1408.8 1166.7 1410.8 1167.1 1412.8 1167.5C1414.7 1167.8 1416.7 1168.2 1418.7 1168.6C1420.6 1168.9 1422.6 1169.3 1424.6 1169.6C1426.5 1170 1428.5 1170.3 1430.5 1170.7C1432.5 1171 1434.4 1171.3 1436.4 1171.6C1438.4 1171.9 1440.4 1172.2 1442.3 1172.5C1444.3 1172.8 1446.3 1173.1 1448.3 1173.4C1450.3 1173.7 1452.2 1173.9 1454.2 1174.2C1456.2 1174.5 1458.2 1174.7 1460.2 1175C1462.2 1175.3 1464.2 1175.5 1466.1 1175.7C1468.1 1176 1470.1 1176.2 1472.1 1176.5C1474.1 1176.7 1476.1 1176.9 1478.1 1177.2C1480 1177.4 1482 1177.6 1484 1177.8C1486 1178 1488 1178.2 1490 1178.4C1492 1178.6 1494 1178.8 1496 1179C1498 1179.2 1499.9 1179.4 1501.9 1179.6C1503.9 1179.8 1505.9 1180 1507.9 1180.2C1509.9 1180.3 1511.9 1180.5 1513.9 1180.7C1515.9 1180.8 1517.9 1181 1519.9 1181.2C1521.9 1181.3 1523.9 1181.5 1525.9 1181.6C1527.9 1181.8 1529.8 1182 1531.8 1182.1C1533.8 1182.3 1535.8 1182.4 1537.8 1182.5C1539.8 1182.7 1541.8 1182.8 1543.8 1183C1545.8 1183.1 1547.8 1183.2 1549.8 1183.4C1551.8 1183.5 1553.8 1183.6 1555.8 1183.8C1557.8 1183.9 1559.8 1184 1561.8 1184.1C1563.8 1184.3 1565.8 1184.4 1567.8 1184.5C1569.8 1184.6 1571.8 1184.7 1573.8 1184.8C1575.8 1185 1577.8 1185.1 1579.8 1185.2C1581.8 1185.3 1583.8 1185.4 1585.8 1185.5C1587.8 1185.6 1589.7 1185.7 1591.7 1185.8C1593.7 1185.9 1595.7 1186 1597.7 1186.2C1599.7 1186.3 1601.7 1186.4 1603.7 1186.5C1605.7 1186.6 1607.7 1186.7 1609.7 1186.8C1611.7 1186.9 1613.7 1187 1615.7 1187.1C1617.7 1187.2 1619.7 1187.3 1621.7 1187.4C1623.7 1187.5 1625.7 1187.6 1627.7 1187.7C1629.7 1187.8 1631.7 1187.9 1633.7 1188C1635.7 1188.1 1637.7 1188.2 1639.7 1188.3C1641.7 1188.4 1643.7 1188.4 1645.7 1188.5C1647.7 1188.6 1649.7 1188.7 1651.7 1188.8C1653.7 1188.9 1655.7 1189 1657.7 1189.1C1659.7 1189.2 1661.7 1189.3 1663.7 1189.4C1665.7 1189.5 1667.7 1189.6 1669.7 1189.7C1671.7 1189.7 1673.7 1189.8 1675.7 1189.9C1677.7 1190 1679.7 1190.1 1681.7 1190.2C1683.7 1190.3 1685.7 1190.4 1687.7 1190.4C1689.7 1190.5 1691.7 1190.6 1693.7 1190.7C1695.7 1190.8 1697.7 1190.9 1699.7 1190.9C1701.7 1191 1703.7 1191.1 1705.7 1191.2C1707.7 1191.3 1709.7 1191.4 1711.7 1191.4C1713.7 1191.5 1715.7 1191.6 1717.7 1191.7C1719.6 1191.7 1721.6 1191.8 1723.6 1191.9C1725.6 1192 1727.6 1192.1 1729.6 1192.1C1731.6 1192.2 1733.6 1192.3 1735.6 1192.4C1737.6 1192.4 1739.6 1192.5 1741.6 1192.6C1743.6 1192.6 1745.6 1192.7 1747.6 1192.8C1749.6 1192.9 1751.6 1192.9 1753.6 1193C1755.6 1193.1 1757.6 1193.2 1759.6 1193.2C1761.6 1193.3 1763.6 1193.4 1765.6 1193.4C1767.6 1193.5 1769.6 1193.6 1771.6 1193.6C1773.6 1193.7 1775.6 1193.8 1777.6 1193.8C1779.6 1193.9 1781.6 1194 1783.6 1194C1785.6 1194.1 1787.6 1194.2 1789.6 1194.2C1791.6 1194.3 1793.6 1194.4 1795.6 1194.4C1797.6 1194.5 1799.6 1194.6 1801.6 1194.6C1803.6 1194.7 1805.6 1194.7 1807.6 1194.8C1809.6 1194.9 1811.6 1194.9 1813.6 1195C1815.6 1195.1 1817.6 1195.1 1819.6 1195.2C1821.6 1195.2 1823.6 1195.3 1825.6 1195.3C1827.6 1195.4 1829.6 1195.5 1831.6 1195.5C1833.6 1195.6 1835.6 1195.6 1837.6 1195.7C1839.6 1195.7 1841.6 1195.8 1843.6 1195.8C1845.6 1195.9 1847.6 1195.9 1849.6 1196C1851.6 1196 1853.6 1196.1 1855.6 1196.1C1857.6 1196.2 1859.6 1196.2 1861.6 1196.3C1863.6 1196.3 1865.6 1196.4 1867.6 1196.4C1869.6 1196.4 1871.6 1196.5 1873.6 1196.5C1875.6 1196.6 1877.6 1196.6 1879.6 1196.6C1881.6 1196.7 1883.6 1196.7 1885.6 1196.8C1887.6 1196.8 1889.6 1196.8 1891.6 1196.9C1893.6 1196.9 1895.6 1197 1897.6 1197C1899.6 1197 1901.6 1197.1 1903.6 1197.1C1905.6 1197.1 1907.6 1197.2 1909.6 1197.2C1911.6 1197.2 1913.6 1197.3 1915.6 1197.3C1917.6 1197.4 1919.6 1197.4 1921.6 1197.4C1923.6 1197.5 1925.6 1197.5 1927.6 1197.5C1929.6 1197.6 1931.6 1197.6 1933.6 1197.6C1935.6 1197.6 1937.6 1197.7 1939.6 1197.7C1941.6 1197.7 1943.6 1197.8 1945.6 1197.8C1947.6 1197.8 1949.6 1197.9 1951.6 1197.9C1953.6 1197.9 1955.6 1198 1957.6 1198C1959.6 1198 1961.6 1198.1 1963.6 1198.1C1965.6 1198.1 1967.6 1198.2 1969.6 1198.2C1971.6 1198.2 1973.6 1198.3 1975.6 1198.3C1977.6 1198.3 1979.6 1198.4 1981.6 1198.4C1983.6 1198.4 1985.6 1198.5 1987.6 1198.5C1989.6 1198.6 1991.6 1198.6 1993.6 1198.6C1995.6 1198.7 1997.6 1198.7 1999.6 1198.8C2001.6 1198.8 2003.6 1198.9 2005.6 1198.9C2007.6 1199 2009.6 1199 2011.6 1199C2013.6 1199.1 2015.6 1199.1 2017.6 1199.2C2019.6 1199.2 2021.6 1199.3 2023.6 1199.4C2025.6 1199.4 2027.6 1199.5 2029.6 1199.5C2031.6 1199.6 2033.6 1199.7 2035.6 1199.7C2037.6 1199.8 2039.6 1199.8 2041.6 1199.9C2043.6 1200 2045.6 1200 2047.6 1200.1C2049.6 1200.2 2051.6 1200.3 2053.6 1200.3C2055.6 1200.4 2057.6 1200.5 2059.6 1200.6C2061.6 1200.7 2063.6 1200.8 2065.6 1200.9C2067.6 1200.9 2069.6 1201 2071.6 1201.1C2073.6 1201.2 2075.6 1201.3 2077.6 1201.4C2079.6 1201.5 2081.6 1201.6 2083.6 1201.7C2085.6 1201.8 2087.6 1201.9 2089.6 1202C2091.6 1202.1 2093.6 1202.2 2095.6 1202.3C2097.6 1202.5 2099.6 1202.6 2101.6 1202.7C2103.6 1202.8 2105.6 1203 2107.6 1202.9C2109.6 1202.9 2111.7 1202.5 2113.6 1202.4C2115.5 1202.3 2118.1 1202.4 2119 1202.4"/>
</g>
<g class="tick" text-anchor="middle">
<text transform="translate(265.5 1503) scale(1 1.04)">0</text>
<text transform="translate(497 1503) scale(1 1.04)">100</text>
<text transform="translate(728.5 1503) scale(1 1.04)">200</text>
<text transform="translate(960 1503) scale(1 1.04)">300</text>
<text transform="translate(1191.5 1503) scale(1 1.04)">400</text>
<text transform="translate(1423 1503) scale(1 1.04)">500</text>
<text transform="translate(1654.5 1503) scale(1 1.04)">600</text>
<text transform="translate(1886 1503) scale(1 1.04)">700</text>
<text transform="translate(2117.5 1503) scale(1 1.04)">800</text>
</g>
<g class="tick" text-anchor="end">
<text transform="translate(218.5 1426.8) scale(1 1.04)">0</text>
<text transform="translate(218.5 1155.2) scale(1 1.04)">20</text>
<text transform="translate(218.5 883.6) scale(1 1.04)">40</text>
<text transform="translate(218.5 612) scale(1 1.04)">60</text>
<text transform="translate(218.5 340.4) scale(1 1.04)">80</text>
<text transform="translate(218.5 68.8) scale(1 1.04)">100</text>
</g>
<text class="title" text-anchor="middle" x="1191.8" y="1616">temperature [°C]</text>
<text class="title" text-anchor="middle" transform="translate(88 730) rotate(-90)">mass [%]</text>
</svg>
</body></html>
